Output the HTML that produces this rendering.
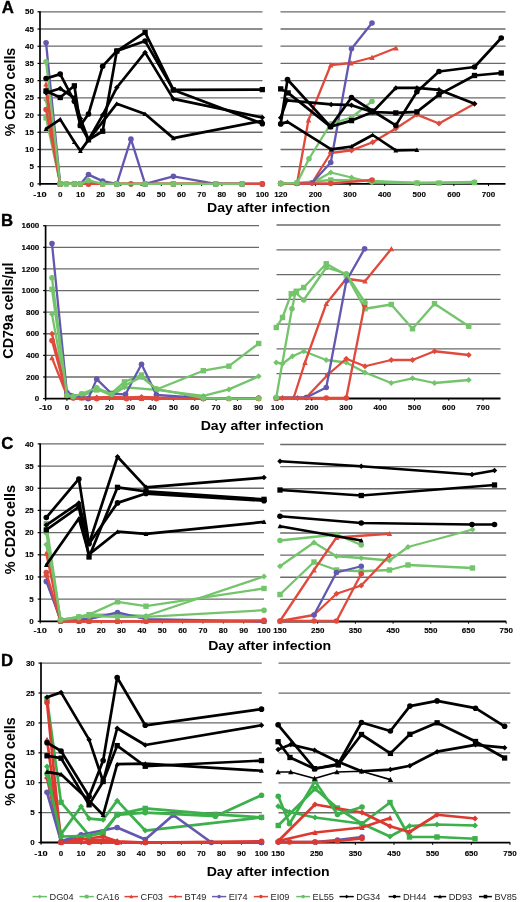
<!DOCTYPE html>
<html><head><meta charset="utf-8"><style>
html,body{margin:0;padding:0;background:#fff;}
svg{display:block;filter:blur(0.35px);}
text{font-family:"Liberation Sans",sans-serif;fill:#000;}
</style></head><body>
<svg width="520" height="902" viewBox="0 0 520 902">
<rect width="520" height="902" fill="#fff"/>
<line x1="40" y1="166.69" x2="262.5" y2="166.69" stroke="#6a6a6a" stroke-width="1.3"/>
<line x1="40" y1="149.48" x2="262.5" y2="149.48" stroke="#6a6a6a" stroke-width="1.3"/>
<line x1="40" y1="132.27" x2="262.5" y2="132.27" stroke="#6a6a6a" stroke-width="1.3"/>
<line x1="40" y1="115.06" x2="262.5" y2="115.06" stroke="#6a6a6a" stroke-width="1.3"/>
<line x1="40" y1="97.85" x2="262.5" y2="97.85" stroke="#6a6a6a" stroke-width="1.3"/>
<line x1="40" y1="80.64" x2="262.5" y2="80.64" stroke="#6a6a6a" stroke-width="1.3"/>
<line x1="40" y1="63.43" x2="262.5" y2="63.43" stroke="#6a6a6a" stroke-width="1.3"/>
<line x1="40" y1="46.22" x2="262.5" y2="46.22" stroke="#6a6a6a" stroke-width="1.3"/>
<line x1="40" y1="29.01" x2="262.5" y2="29.01" stroke="#6a6a6a" stroke-width="1.3"/>
<line x1="40" y1="11.8" x2="262.5" y2="11.8" stroke="#6a6a6a" stroke-width="1.3"/>
<line x1="40" y1="183.9" x2="262.5" y2="183.9" stroke="#000" stroke-width="1.8"/>
<line x1="40" y1="183.9" x2="40" y2="186.1" stroke="#000" stroke-width="1"/>
<line x1="60.21" y1="183.9" x2="60.21" y2="186.1" stroke="#000" stroke-width="1"/>
<line x1="80.42" y1="183.9" x2="80.42" y2="186.1" stroke="#000" stroke-width="1"/>
<line x1="100.63" y1="183.9" x2="100.63" y2="186.1" stroke="#000" stroke-width="1"/>
<line x1="120.84" y1="183.9" x2="120.84" y2="186.1" stroke="#000" stroke-width="1"/>
<line x1="141.05" y1="183.9" x2="141.05" y2="186.1" stroke="#000" stroke-width="1"/>
<line x1="161.25" y1="183.9" x2="161.25" y2="186.1" stroke="#000" stroke-width="1"/>
<line x1="181.46" y1="183.9" x2="181.46" y2="186.1" stroke="#000" stroke-width="1"/>
<line x1="201.67" y1="183.9" x2="201.67" y2="186.1" stroke="#000" stroke-width="1"/>
<line x1="221.88" y1="183.9" x2="221.88" y2="186.1" stroke="#000" stroke-width="1"/>
<line x1="242.09" y1="183.9" x2="242.09" y2="186.1" stroke="#000" stroke-width="1"/>
<line x1="262.3" y1="183.9" x2="262.3" y2="186.1" stroke="#000" stroke-width="1"/>
<line x1="40" y1="11.3" x2="40" y2="184.8" stroke="#000" stroke-width="1.7"/>
<line x1="37.5" y1="183.9" x2="40" y2="183.9" stroke="#000" stroke-width="1.2"/>
<line x1="37.5" y1="166.69" x2="40" y2="166.69" stroke="#000" stroke-width="1.2"/>
<line x1="37.5" y1="149.48" x2="40" y2="149.48" stroke="#000" stroke-width="1.2"/>
<line x1="37.5" y1="132.27" x2="40" y2="132.27" stroke="#000" stroke-width="1.2"/>
<line x1="37.5" y1="115.06" x2="40" y2="115.06" stroke="#000" stroke-width="1.2"/>
<line x1="37.5" y1="97.85" x2="40" y2="97.85" stroke="#000" stroke-width="1.2"/>
<line x1="37.5" y1="80.64" x2="40" y2="80.64" stroke="#000" stroke-width="1.2"/>
<line x1="37.5" y1="63.43" x2="40" y2="63.43" stroke="#000" stroke-width="1.2"/>
<line x1="37.5" y1="46.22" x2="40" y2="46.22" stroke="#000" stroke-width="1.2"/>
<line x1="37.5" y1="29.01" x2="40" y2="29.01" stroke="#000" stroke-width="1.2"/>
<line x1="37.5" y1="11.8" x2="40" y2="11.8" stroke="#000" stroke-width="1.2"/>
<text x="40" y="196.8" text-anchor="middle" font-size="6.5" font-weight="bold" stroke="#000" stroke-width="0.1" textLength="13.35" lengthAdjust="spacingAndGlyphs">-10</text>
<text x="60.21" y="196.8" text-anchor="middle" font-size="6.5" font-weight="bold" stroke="#000" stroke-width="0.1" textLength="4.45" lengthAdjust="spacingAndGlyphs">0</text>
<text x="80.42" y="196.8" text-anchor="middle" font-size="6.5" font-weight="bold" stroke="#000" stroke-width="0.1" textLength="8.9" lengthAdjust="spacingAndGlyphs">10</text>
<text x="100.63" y="196.8" text-anchor="middle" font-size="6.5" font-weight="bold" stroke="#000" stroke-width="0.1" textLength="8.9" lengthAdjust="spacingAndGlyphs">20</text>
<text x="120.84" y="196.8" text-anchor="middle" font-size="6.5" font-weight="bold" stroke="#000" stroke-width="0.1" textLength="8.9" lengthAdjust="spacingAndGlyphs">30</text>
<text x="141.05" y="196.8" text-anchor="middle" font-size="6.5" font-weight="bold" stroke="#000" stroke-width="0.1" textLength="8.9" lengthAdjust="spacingAndGlyphs">40</text>
<text x="161.25" y="196.8" text-anchor="middle" font-size="6.5" font-weight="bold" stroke="#000" stroke-width="0.1" textLength="8.9" lengthAdjust="spacingAndGlyphs">50</text>
<text x="181.46" y="196.8" text-anchor="middle" font-size="6.5" font-weight="bold" stroke="#000" stroke-width="0.1" textLength="8.9" lengthAdjust="spacingAndGlyphs">60</text>
<text x="201.67" y="196.8" text-anchor="middle" font-size="6.5" font-weight="bold" stroke="#000" stroke-width="0.1" textLength="8.9" lengthAdjust="spacingAndGlyphs">70</text>
<text x="221.88" y="196.8" text-anchor="middle" font-size="6.5" font-weight="bold" stroke="#000" stroke-width="0.1" textLength="8.9" lengthAdjust="spacingAndGlyphs">80</text>
<text x="242.09" y="196.8" text-anchor="middle" font-size="6.5" font-weight="bold" stroke="#000" stroke-width="0.1" textLength="8.9" lengthAdjust="spacingAndGlyphs">90</text>
<text x="262.3" y="196.8" text-anchor="middle" font-size="6.5" font-weight="bold" stroke="#000" stroke-width="0.1" textLength="13.35" lengthAdjust="spacingAndGlyphs">100</text>
<text x="34" y="186.5" text-anchor="end" font-size="6.5" font-weight="bold" stroke="#000" stroke-width="0.1" textLength="4.45" lengthAdjust="spacingAndGlyphs">0</text>
<text x="34" y="169.29" text-anchor="end" font-size="6.5" font-weight="bold" stroke="#000" stroke-width="0.1" textLength="4.45" lengthAdjust="spacingAndGlyphs">5</text>
<text x="34" y="152.08" text-anchor="end" font-size="6.5" font-weight="bold" stroke="#000" stroke-width="0.1" textLength="8.9" lengthAdjust="spacingAndGlyphs">10</text>
<text x="34" y="134.87" text-anchor="end" font-size="6.5" font-weight="bold" stroke="#000" stroke-width="0.1" textLength="8.9" lengthAdjust="spacingAndGlyphs">15</text>
<text x="34" y="117.66" text-anchor="end" font-size="6.5" font-weight="bold" stroke="#000" stroke-width="0.1" textLength="8.9" lengthAdjust="spacingAndGlyphs">20</text>
<text x="34" y="100.45" text-anchor="end" font-size="6.5" font-weight="bold" stroke="#000" stroke-width="0.1" textLength="8.9" lengthAdjust="spacingAndGlyphs">25</text>
<text x="34" y="83.24" text-anchor="end" font-size="6.5" font-weight="bold" stroke="#000" stroke-width="0.1" textLength="8.9" lengthAdjust="spacingAndGlyphs">30</text>
<text x="34" y="66.03" text-anchor="end" font-size="6.5" font-weight="bold" stroke="#000" stroke-width="0.1" textLength="8.9" lengthAdjust="spacingAndGlyphs">35</text>
<text x="34" y="48.82" text-anchor="end" font-size="6.5" font-weight="bold" stroke="#000" stroke-width="0.1" textLength="8.9" lengthAdjust="spacingAndGlyphs">40</text>
<text x="34" y="31.61" text-anchor="end" font-size="6.5" font-weight="bold" stroke="#000" stroke-width="0.1" textLength="8.9" lengthAdjust="spacingAndGlyphs">45</text>
<text x="34" y="14.4" text-anchor="end" font-size="6.5" font-weight="bold" stroke="#000" stroke-width="0.1" textLength="8.9" lengthAdjust="spacingAndGlyphs">50</text>
<line x1="280.5" y1="166.69" x2="505.5" y2="166.69" stroke="#6a6a6a" stroke-width="1.3"/>
<line x1="280.5" y1="149.48" x2="505.5" y2="149.48" stroke="#6a6a6a" stroke-width="1.3"/>
<line x1="280.5" y1="132.27" x2="505.5" y2="132.27" stroke="#6a6a6a" stroke-width="1.3"/>
<line x1="280.5" y1="115.06" x2="505.5" y2="115.06" stroke="#6a6a6a" stroke-width="1.3"/>
<line x1="280.5" y1="97.85" x2="505.5" y2="97.85" stroke="#6a6a6a" stroke-width="1.3"/>
<line x1="280.5" y1="80.64" x2="505.5" y2="80.64" stroke="#6a6a6a" stroke-width="1.3"/>
<line x1="280.5" y1="63.43" x2="505.5" y2="63.43" stroke="#6a6a6a" stroke-width="1.3"/>
<line x1="280.5" y1="46.22" x2="505.5" y2="46.22" stroke="#6a6a6a" stroke-width="1.3"/>
<line x1="280.5" y1="29.01" x2="505.5" y2="29.01" stroke="#6a6a6a" stroke-width="1.3"/>
<line x1="280.5" y1="11.8" x2="505.5" y2="11.8" stroke="#6a6a6a" stroke-width="1.3"/>
<line x1="280.5" y1="183.9" x2="505.5" y2="183.9" stroke="#000" stroke-width="1.8"/>
<line x1="280.8" y1="183.9" x2="280.8" y2="186.1" stroke="#000" stroke-width="1"/>
<line x1="315.42" y1="183.9" x2="315.42" y2="186.1" stroke="#000" stroke-width="1"/>
<line x1="350.03" y1="183.9" x2="350.03" y2="186.1" stroke="#000" stroke-width="1"/>
<line x1="384.65" y1="183.9" x2="384.65" y2="186.1" stroke="#000" stroke-width="1"/>
<line x1="419.27" y1="183.9" x2="419.27" y2="186.1" stroke="#000" stroke-width="1"/>
<line x1="453.88" y1="183.9" x2="453.88" y2="186.1" stroke="#000" stroke-width="1"/>
<line x1="488.5" y1="183.9" x2="488.5" y2="186.1" stroke="#000" stroke-width="1"/>
<text x="280.8" y="196.8" text-anchor="middle" font-size="6.5" font-weight="bold" stroke="#000" stroke-width="0.1" textLength="13.35" lengthAdjust="spacingAndGlyphs">120</text>
<text x="315.42" y="196.8" text-anchor="middle" font-size="6.5" font-weight="bold" stroke="#000" stroke-width="0.1" textLength="13.35" lengthAdjust="spacingAndGlyphs">200</text>
<text x="350.03" y="196.8" text-anchor="middle" font-size="6.5" font-weight="bold" stroke="#000" stroke-width="0.1" textLength="13.35" lengthAdjust="spacingAndGlyphs">300</text>
<text x="384.65" y="196.8" text-anchor="middle" font-size="6.5" font-weight="bold" stroke="#000" stroke-width="0.1" textLength="13.35" lengthAdjust="spacingAndGlyphs">400</text>
<text x="419.27" y="196.8" text-anchor="middle" font-size="6.5" font-weight="bold" stroke="#000" stroke-width="0.1" textLength="13.35" lengthAdjust="spacingAndGlyphs">500</text>
<text x="453.88" y="196.8" text-anchor="middle" font-size="6.5" font-weight="bold" stroke="#000" stroke-width="0.1" textLength="13.35" lengthAdjust="spacingAndGlyphs">600</text>
<text x="488.5" y="196.8" text-anchor="middle" font-size="6.5" font-weight="bold" stroke="#000" stroke-width="0.1" textLength="13.35" lengthAdjust="spacingAndGlyphs">700</text>
<line x1="45.6" y1="376.99" x2="259" y2="376.99" stroke="#6a6a6a" stroke-width="1.3"/>
<line x1="45.6" y1="355.38" x2="259" y2="355.38" stroke="#6a6a6a" stroke-width="1.3"/>
<line x1="45.6" y1="333.76" x2="259" y2="333.76" stroke="#6a6a6a" stroke-width="1.3"/>
<line x1="45.6" y1="312.15" x2="259" y2="312.15" stroke="#6a6a6a" stroke-width="1.3"/>
<line x1="45.6" y1="290.54" x2="259" y2="290.54" stroke="#6a6a6a" stroke-width="1.3"/>
<line x1="45.6" y1="268.93" x2="259" y2="268.93" stroke="#6a6a6a" stroke-width="1.3"/>
<line x1="45.6" y1="247.31" x2="259" y2="247.31" stroke="#6a6a6a" stroke-width="1.3"/>
<line x1="45.6" y1="225.7" x2="259" y2="225.7" stroke="#6a6a6a" stroke-width="1.3"/>
<line x1="45.6" y1="398.6" x2="259" y2="398.6" stroke="#000" stroke-width="1.8"/>
<line x1="45.6" y1="398.6" x2="45.6" y2="400.8" stroke="#000" stroke-width="1"/>
<line x1="66.91" y1="398.6" x2="66.91" y2="400.8" stroke="#000" stroke-width="1"/>
<line x1="88.22" y1="398.6" x2="88.22" y2="400.8" stroke="#000" stroke-width="1"/>
<line x1="109.53" y1="398.6" x2="109.53" y2="400.8" stroke="#000" stroke-width="1"/>
<line x1="130.84" y1="398.6" x2="130.84" y2="400.8" stroke="#000" stroke-width="1"/>
<line x1="152.15" y1="398.6" x2="152.15" y2="400.8" stroke="#000" stroke-width="1"/>
<line x1="173.46" y1="398.6" x2="173.46" y2="400.8" stroke="#000" stroke-width="1"/>
<line x1="194.77" y1="398.6" x2="194.77" y2="400.8" stroke="#000" stroke-width="1"/>
<line x1="216.08" y1="398.6" x2="216.08" y2="400.8" stroke="#000" stroke-width="1"/>
<line x1="237.39" y1="398.6" x2="237.39" y2="400.8" stroke="#000" stroke-width="1"/>
<line x1="258.7" y1="398.6" x2="258.7" y2="400.8" stroke="#000" stroke-width="1"/>
<line x1="45.6" y1="225.2" x2="45.6" y2="399.5" stroke="#000" stroke-width="1.7"/>
<line x1="43.1" y1="398.6" x2="45.6" y2="398.6" stroke="#000" stroke-width="1.2"/>
<line x1="43.1" y1="376.99" x2="45.6" y2="376.99" stroke="#000" stroke-width="1.2"/>
<line x1="43.1" y1="355.38" x2="45.6" y2="355.38" stroke="#000" stroke-width="1.2"/>
<line x1="43.1" y1="333.76" x2="45.6" y2="333.76" stroke="#000" stroke-width="1.2"/>
<line x1="43.1" y1="312.15" x2="45.6" y2="312.15" stroke="#000" stroke-width="1.2"/>
<line x1="43.1" y1="290.54" x2="45.6" y2="290.54" stroke="#000" stroke-width="1.2"/>
<line x1="43.1" y1="268.93" x2="45.6" y2="268.93" stroke="#000" stroke-width="1.2"/>
<line x1="43.1" y1="247.31" x2="45.6" y2="247.31" stroke="#000" stroke-width="1.2"/>
<line x1="43.1" y1="225.7" x2="45.6" y2="225.7" stroke="#000" stroke-width="1.2"/>
<text x="45.6" y="410.3" text-anchor="middle" font-size="6.5" font-weight="bold" stroke="#000" stroke-width="0.1" textLength="13.35" lengthAdjust="spacingAndGlyphs">-10</text>
<text x="66.91" y="410.3" text-anchor="middle" font-size="6.5" font-weight="bold" stroke="#000" stroke-width="0.1" textLength="4.45" lengthAdjust="spacingAndGlyphs">0</text>
<text x="88.22" y="410.3" text-anchor="middle" font-size="6.5" font-weight="bold" stroke="#000" stroke-width="0.1" textLength="8.9" lengthAdjust="spacingAndGlyphs">10</text>
<text x="109.53" y="410.3" text-anchor="middle" font-size="6.5" font-weight="bold" stroke="#000" stroke-width="0.1" textLength="8.9" lengthAdjust="spacingAndGlyphs">20</text>
<text x="130.84" y="410.3" text-anchor="middle" font-size="6.5" font-weight="bold" stroke="#000" stroke-width="0.1" textLength="8.9" lengthAdjust="spacingAndGlyphs">30</text>
<text x="152.15" y="410.3" text-anchor="middle" font-size="6.5" font-weight="bold" stroke="#000" stroke-width="0.1" textLength="8.9" lengthAdjust="spacingAndGlyphs">40</text>
<text x="173.46" y="410.3" text-anchor="middle" font-size="6.5" font-weight="bold" stroke="#000" stroke-width="0.1" textLength="8.9" lengthAdjust="spacingAndGlyphs">50</text>
<text x="194.77" y="410.3" text-anchor="middle" font-size="6.5" font-weight="bold" stroke="#000" stroke-width="0.1" textLength="8.9" lengthAdjust="spacingAndGlyphs">60</text>
<text x="216.08" y="410.3" text-anchor="middle" font-size="6.5" font-weight="bold" stroke="#000" stroke-width="0.1" textLength="8.9" lengthAdjust="spacingAndGlyphs">70</text>
<text x="237.39" y="410.3" text-anchor="middle" font-size="6.5" font-weight="bold" stroke="#000" stroke-width="0.1" textLength="8.9" lengthAdjust="spacingAndGlyphs">80</text>
<text x="258.7" y="410.3" text-anchor="middle" font-size="6.5" font-weight="bold" stroke="#000" stroke-width="0.1" textLength="8.9" lengthAdjust="spacingAndGlyphs">90</text>
<text x="39.3" y="401.2" text-anchor="end" font-size="6.5" font-weight="bold" stroke="#000" stroke-width="0.1" textLength="4.45" lengthAdjust="spacingAndGlyphs">0</text>
<text x="39.3" y="379.59" text-anchor="end" font-size="6.5" font-weight="bold" stroke="#000" stroke-width="0.1" textLength="13.35" lengthAdjust="spacingAndGlyphs">200</text>
<text x="39.3" y="357.98" text-anchor="end" font-size="6.5" font-weight="bold" stroke="#000" stroke-width="0.1" textLength="13.35" lengthAdjust="spacingAndGlyphs">400</text>
<text x="39.3" y="336.36" text-anchor="end" font-size="6.5" font-weight="bold" stroke="#000" stroke-width="0.1" textLength="13.35" lengthAdjust="spacingAndGlyphs">600</text>
<text x="39.3" y="314.75" text-anchor="end" font-size="6.5" font-weight="bold" stroke="#000" stroke-width="0.1" textLength="13.35" lengthAdjust="spacingAndGlyphs">800</text>
<text x="39.3" y="293.14" text-anchor="end" font-size="6.5" font-weight="bold" stroke="#000" stroke-width="0.1" textLength="17.8" lengthAdjust="spacingAndGlyphs">1000</text>
<text x="39.3" y="271.53" text-anchor="end" font-size="6.5" font-weight="bold" stroke="#000" stroke-width="0.1" textLength="17.8" lengthAdjust="spacingAndGlyphs">1200</text>
<text x="39.3" y="249.91" text-anchor="end" font-size="6.5" font-weight="bold" stroke="#000" stroke-width="0.1" textLength="17.8" lengthAdjust="spacingAndGlyphs">1400</text>
<text x="39.3" y="228.3" text-anchor="end" font-size="6.5" font-weight="bold" stroke="#000" stroke-width="0.1" textLength="17.8" lengthAdjust="spacingAndGlyphs">1600</text>
<line x1="276.5" y1="373.71" x2="500.5" y2="373.71" stroke="#6a6a6a" stroke-width="1.3"/>
<line x1="276.5" y1="348.93" x2="500.5" y2="348.93" stroke="#6a6a6a" stroke-width="1.3"/>
<line x1="276.5" y1="324.14" x2="500.5" y2="324.14" stroke="#6a6a6a" stroke-width="1.3"/>
<line x1="276.5" y1="299.36" x2="500.5" y2="299.36" stroke="#6a6a6a" stroke-width="1.3"/>
<line x1="276.5" y1="274.57" x2="500.5" y2="274.57" stroke="#6a6a6a" stroke-width="1.3"/>
<line x1="276.5" y1="249.79" x2="500.5" y2="249.79" stroke="#6a6a6a" stroke-width="1.3"/>
<line x1="276.5" y1="225" x2="500.5" y2="225" stroke="#6a6a6a" stroke-width="1.3"/>
<line x1="276.5" y1="398.5" x2="500.5" y2="398.5" stroke="#000" stroke-width="1.8"/>
<line x1="277.5" y1="398.5" x2="277.5" y2="400.7" stroke="#000" stroke-width="1"/>
<line x1="311.75" y1="398.5" x2="311.75" y2="400.7" stroke="#000" stroke-width="1"/>
<line x1="346" y1="398.5" x2="346" y2="400.7" stroke="#000" stroke-width="1"/>
<line x1="380.25" y1="398.5" x2="380.25" y2="400.7" stroke="#000" stroke-width="1"/>
<line x1="414.5" y1="398.5" x2="414.5" y2="400.7" stroke="#000" stroke-width="1"/>
<line x1="448.75" y1="398.5" x2="448.75" y2="400.7" stroke="#000" stroke-width="1"/>
<line x1="483" y1="398.5" x2="483" y2="400.7" stroke="#000" stroke-width="1"/>
<text x="277.5" y="410.3" text-anchor="middle" font-size="6.5" font-weight="bold" stroke="#000" stroke-width="0.1" textLength="13.35" lengthAdjust="spacingAndGlyphs">100</text>
<text x="311.75" y="410.3" text-anchor="middle" font-size="6.5" font-weight="bold" stroke="#000" stroke-width="0.1" textLength="13.35" lengthAdjust="spacingAndGlyphs">200</text>
<text x="346" y="410.3" text-anchor="middle" font-size="6.5" font-weight="bold" stroke="#000" stroke-width="0.1" textLength="13.35" lengthAdjust="spacingAndGlyphs">300</text>
<text x="380.25" y="410.3" text-anchor="middle" font-size="6.5" font-weight="bold" stroke="#000" stroke-width="0.1" textLength="13.35" lengthAdjust="spacingAndGlyphs">400</text>
<text x="414.5" y="410.3" text-anchor="middle" font-size="6.5" font-weight="bold" stroke="#000" stroke-width="0.1" textLength="13.35" lengthAdjust="spacingAndGlyphs">500</text>
<text x="448.75" y="410.3" text-anchor="middle" font-size="6.5" font-weight="bold" stroke="#000" stroke-width="0.1" textLength="13.35" lengthAdjust="spacingAndGlyphs">600</text>
<text x="483" y="410.3" text-anchor="middle" font-size="6.5" font-weight="bold" stroke="#000" stroke-width="0.1" textLength="13.35" lengthAdjust="spacingAndGlyphs">700</text>
<line x1="40.2" y1="599.12" x2="264" y2="599.12" stroke="#6a6a6a" stroke-width="1.3"/>
<line x1="40.2" y1="576.95" x2="264" y2="576.95" stroke="#6a6a6a" stroke-width="1.3"/>
<line x1="40.2" y1="554.77" x2="264" y2="554.77" stroke="#6a6a6a" stroke-width="1.3"/>
<line x1="40.2" y1="532.6" x2="264" y2="532.6" stroke="#6a6a6a" stroke-width="1.3"/>
<line x1="40.2" y1="510.42" x2="264" y2="510.42" stroke="#6a6a6a" stroke-width="1.3"/>
<line x1="40.2" y1="488.25" x2="264" y2="488.25" stroke="#6a6a6a" stroke-width="1.3"/>
<line x1="40.2" y1="466.07" x2="264" y2="466.07" stroke="#6a6a6a" stroke-width="1.3"/>
<line x1="40.2" y1="443.9" x2="264" y2="443.9" stroke="#6a6a6a" stroke-width="1.3"/>
<line x1="40.2" y1="621.3" x2="264" y2="621.3" stroke="#000" stroke-width="1.8"/>
<line x1="40.2" y1="621.3" x2="40.2" y2="623.5" stroke="#000" stroke-width="1"/>
<line x1="60.55" y1="621.3" x2="60.55" y2="623.5" stroke="#000" stroke-width="1"/>
<line x1="80.89" y1="621.3" x2="80.89" y2="623.5" stroke="#000" stroke-width="1"/>
<line x1="101.24" y1="621.3" x2="101.24" y2="623.5" stroke="#000" stroke-width="1"/>
<line x1="121.58" y1="621.3" x2="121.58" y2="623.5" stroke="#000" stroke-width="1"/>
<line x1="141.93" y1="621.3" x2="141.93" y2="623.5" stroke="#000" stroke-width="1"/>
<line x1="162.27" y1="621.3" x2="162.27" y2="623.5" stroke="#000" stroke-width="1"/>
<line x1="182.62" y1="621.3" x2="182.62" y2="623.5" stroke="#000" stroke-width="1"/>
<line x1="202.96" y1="621.3" x2="202.96" y2="623.5" stroke="#000" stroke-width="1"/>
<line x1="223.31" y1="621.3" x2="223.31" y2="623.5" stroke="#000" stroke-width="1"/>
<line x1="243.65" y1="621.3" x2="243.65" y2="623.5" stroke="#000" stroke-width="1"/>
<line x1="264" y1="621.3" x2="264" y2="623.5" stroke="#000" stroke-width="1"/>
<line x1="40.2" y1="443.4" x2="40.2" y2="622.2" stroke="#000" stroke-width="1.7"/>
<line x1="37.7" y1="621.3" x2="40.2" y2="621.3" stroke="#000" stroke-width="1.2"/>
<line x1="37.7" y1="599.12" x2="40.2" y2="599.12" stroke="#000" stroke-width="1.2"/>
<line x1="37.7" y1="576.95" x2="40.2" y2="576.95" stroke="#000" stroke-width="1.2"/>
<line x1="37.7" y1="554.77" x2="40.2" y2="554.77" stroke="#000" stroke-width="1.2"/>
<line x1="37.7" y1="532.6" x2="40.2" y2="532.6" stroke="#000" stroke-width="1.2"/>
<line x1="37.7" y1="510.42" x2="40.2" y2="510.42" stroke="#000" stroke-width="1.2"/>
<line x1="37.7" y1="488.25" x2="40.2" y2="488.25" stroke="#000" stroke-width="1.2"/>
<line x1="37.7" y1="466.07" x2="40.2" y2="466.07" stroke="#000" stroke-width="1.2"/>
<line x1="37.7" y1="443.9" x2="40.2" y2="443.9" stroke="#000" stroke-width="1.2"/>
<text x="40.2" y="633.3" text-anchor="middle" font-size="6.5" font-weight="bold" stroke="#000" stroke-width="0.1" textLength="13.35" lengthAdjust="spacingAndGlyphs">-10</text>
<text x="60.55" y="633.3" text-anchor="middle" font-size="6.5" font-weight="bold" stroke="#000" stroke-width="0.1" textLength="4.45" lengthAdjust="spacingAndGlyphs">0</text>
<text x="80.89" y="633.3" text-anchor="middle" font-size="6.5" font-weight="bold" stroke="#000" stroke-width="0.1" textLength="8.9" lengthAdjust="spacingAndGlyphs">10</text>
<text x="101.24" y="633.3" text-anchor="middle" font-size="6.5" font-weight="bold" stroke="#000" stroke-width="0.1" textLength="8.9" lengthAdjust="spacingAndGlyphs">20</text>
<text x="121.58" y="633.3" text-anchor="middle" font-size="6.5" font-weight="bold" stroke="#000" stroke-width="0.1" textLength="8.9" lengthAdjust="spacingAndGlyphs">30</text>
<text x="141.93" y="633.3" text-anchor="middle" font-size="6.5" font-weight="bold" stroke="#000" stroke-width="0.1" textLength="8.9" lengthAdjust="spacingAndGlyphs">40</text>
<text x="162.27" y="633.3" text-anchor="middle" font-size="6.5" font-weight="bold" stroke="#000" stroke-width="0.1" textLength="8.9" lengthAdjust="spacingAndGlyphs">50</text>
<text x="182.62" y="633.3" text-anchor="middle" font-size="6.5" font-weight="bold" stroke="#000" stroke-width="0.1" textLength="8.9" lengthAdjust="spacingAndGlyphs">60</text>
<text x="202.96" y="633.3" text-anchor="middle" font-size="6.5" font-weight="bold" stroke="#000" stroke-width="0.1" textLength="8.9" lengthAdjust="spacingAndGlyphs">70</text>
<text x="223.31" y="633.3" text-anchor="middle" font-size="6.5" font-weight="bold" stroke="#000" stroke-width="0.1" textLength="8.9" lengthAdjust="spacingAndGlyphs">80</text>
<text x="243.65" y="633.3" text-anchor="middle" font-size="6.5" font-weight="bold" stroke="#000" stroke-width="0.1" textLength="8.9" lengthAdjust="spacingAndGlyphs">90</text>
<text x="264" y="633.3" text-anchor="middle" font-size="6.5" font-weight="bold" stroke="#000" stroke-width="0.1" textLength="13.35" lengthAdjust="spacingAndGlyphs">100</text>
<text x="33.8" y="623.9" text-anchor="end" font-size="6.5" font-weight="bold" stroke="#000" stroke-width="0.1" textLength="4.45" lengthAdjust="spacingAndGlyphs">0</text>
<text x="33.8" y="601.73" text-anchor="end" font-size="6.5" font-weight="bold" stroke="#000" stroke-width="0.1" textLength="4.45" lengthAdjust="spacingAndGlyphs">5</text>
<text x="33.8" y="579.55" text-anchor="end" font-size="6.5" font-weight="bold" stroke="#000" stroke-width="0.1" textLength="8.9" lengthAdjust="spacingAndGlyphs">10</text>
<text x="33.8" y="557.38" text-anchor="end" font-size="6.5" font-weight="bold" stroke="#000" stroke-width="0.1" textLength="8.9" lengthAdjust="spacingAndGlyphs">15</text>
<text x="33.8" y="535.2" text-anchor="end" font-size="6.5" font-weight="bold" stroke="#000" stroke-width="0.1" textLength="8.9" lengthAdjust="spacingAndGlyphs">20</text>
<text x="33.8" y="513.02" text-anchor="end" font-size="6.5" font-weight="bold" stroke="#000" stroke-width="0.1" textLength="8.9" lengthAdjust="spacingAndGlyphs">25</text>
<text x="33.8" y="490.85" text-anchor="end" font-size="6.5" font-weight="bold" stroke="#000" stroke-width="0.1" textLength="8.9" lengthAdjust="spacingAndGlyphs">30</text>
<text x="33.8" y="468.68" text-anchor="end" font-size="6.5" font-weight="bold" stroke="#000" stroke-width="0.1" textLength="8.9" lengthAdjust="spacingAndGlyphs">35</text>
<text x="33.8" y="446.5" text-anchor="end" font-size="6.5" font-weight="bold" stroke="#000" stroke-width="0.1" textLength="8.9" lengthAdjust="spacingAndGlyphs">40</text>
<line x1="280.2" y1="599.38" x2="506.2" y2="599.38" stroke="#6a6a6a" stroke-width="1.3"/>
<line x1="280.2" y1="577.25" x2="506.2" y2="577.25" stroke="#6a6a6a" stroke-width="1.3"/>
<line x1="280.2" y1="555.12" x2="506.2" y2="555.12" stroke="#6a6a6a" stroke-width="1.3"/>
<line x1="280.2" y1="533" x2="506.2" y2="533" stroke="#6a6a6a" stroke-width="1.3"/>
<line x1="280.2" y1="510.88" x2="506.2" y2="510.88" stroke="#6a6a6a" stroke-width="1.3"/>
<line x1="280.2" y1="488.75" x2="506.2" y2="488.75" stroke="#6a6a6a" stroke-width="1.3"/>
<line x1="280.2" y1="466.62" x2="506.2" y2="466.62" stroke="#6a6a6a" stroke-width="1.3"/>
<line x1="280.2" y1="444.5" x2="506.2" y2="444.5" stroke="#6a6a6a" stroke-width="1.3"/>
<line x1="280.2" y1="621.5" x2="506.2" y2="621.5" stroke="#000" stroke-width="1.8"/>
<line x1="280" y1="621.5" x2="280" y2="623.7" stroke="#000" stroke-width="1"/>
<line x1="317.7" y1="621.5" x2="317.7" y2="623.7" stroke="#000" stroke-width="1"/>
<line x1="355.4" y1="621.5" x2="355.4" y2="623.7" stroke="#000" stroke-width="1"/>
<line x1="393.1" y1="621.5" x2="393.1" y2="623.7" stroke="#000" stroke-width="1"/>
<line x1="430.8" y1="621.5" x2="430.8" y2="623.7" stroke="#000" stroke-width="1"/>
<line x1="468.5" y1="621.5" x2="468.5" y2="623.7" stroke="#000" stroke-width="1"/>
<line x1="506.2" y1="621.5" x2="506.2" y2="623.7" stroke="#000" stroke-width="1"/>
<text x="280" y="633.3" text-anchor="middle" font-size="6.5" font-weight="bold" stroke="#000" stroke-width="0.1" textLength="13.35" lengthAdjust="spacingAndGlyphs">150</text>
<text x="317.7" y="633.3" text-anchor="middle" font-size="6.5" font-weight="bold" stroke="#000" stroke-width="0.1" textLength="13.35" lengthAdjust="spacingAndGlyphs">250</text>
<text x="355.4" y="633.3" text-anchor="middle" font-size="6.5" font-weight="bold" stroke="#000" stroke-width="0.1" textLength="13.35" lengthAdjust="spacingAndGlyphs">350</text>
<text x="393.1" y="633.3" text-anchor="middle" font-size="6.5" font-weight="bold" stroke="#000" stroke-width="0.1" textLength="13.35" lengthAdjust="spacingAndGlyphs">450</text>
<text x="430.8" y="633.3" text-anchor="middle" font-size="6.5" font-weight="bold" stroke="#000" stroke-width="0.1" textLength="13.35" lengthAdjust="spacingAndGlyphs">550</text>
<text x="468.5" y="633.3" text-anchor="middle" font-size="6.5" font-weight="bold" stroke="#000" stroke-width="0.1" textLength="13.35" lengthAdjust="spacingAndGlyphs">650</text>
<text x="506.2" y="633.3" text-anchor="middle" font-size="6.5" font-weight="bold" stroke="#000" stroke-width="0.1" textLength="13.35" lengthAdjust="spacingAndGlyphs">750</text>
<line x1="41" y1="812.6" x2="261.8" y2="812.6" stroke="#6a6a6a" stroke-width="1.3"/>
<line x1="41" y1="782.7" x2="261.8" y2="782.7" stroke="#6a6a6a" stroke-width="1.3"/>
<line x1="41" y1="752.8" x2="261.8" y2="752.8" stroke="#6a6a6a" stroke-width="1.3"/>
<line x1="41" y1="722.9" x2="261.8" y2="722.9" stroke="#6a6a6a" stroke-width="1.3"/>
<line x1="41" y1="693" x2="261.8" y2="693" stroke="#6a6a6a" stroke-width="1.3"/>
<line x1="41" y1="663.1" x2="261.8" y2="663.1" stroke="#6a6a6a" stroke-width="1.3"/>
<line x1="41" y1="842.5" x2="261.8" y2="842.5" stroke="#000" stroke-width="1.8"/>
<line x1="41" y1="842.5" x2="41" y2="844.7" stroke="#000" stroke-width="1"/>
<line x1="61.05" y1="842.5" x2="61.05" y2="844.7" stroke="#000" stroke-width="1"/>
<line x1="81.09" y1="842.5" x2="81.09" y2="844.7" stroke="#000" stroke-width="1"/>
<line x1="101.14" y1="842.5" x2="101.14" y2="844.7" stroke="#000" stroke-width="1"/>
<line x1="121.18" y1="842.5" x2="121.18" y2="844.7" stroke="#000" stroke-width="1"/>
<line x1="141.23" y1="842.5" x2="141.23" y2="844.7" stroke="#000" stroke-width="1"/>
<line x1="161.27" y1="842.5" x2="161.27" y2="844.7" stroke="#000" stroke-width="1"/>
<line x1="181.32" y1="842.5" x2="181.32" y2="844.7" stroke="#000" stroke-width="1"/>
<line x1="201.36" y1="842.5" x2="201.36" y2="844.7" stroke="#000" stroke-width="1"/>
<line x1="221.41" y1="842.5" x2="221.41" y2="844.7" stroke="#000" stroke-width="1"/>
<line x1="241.45" y1="842.5" x2="241.45" y2="844.7" stroke="#000" stroke-width="1"/>
<line x1="261.5" y1="842.5" x2="261.5" y2="844.7" stroke="#000" stroke-width="1"/>
<line x1="41" y1="662.6" x2="41" y2="843.4" stroke="#000" stroke-width="1.7"/>
<line x1="38.5" y1="842.5" x2="41" y2="842.5" stroke="#000" stroke-width="1.2"/>
<line x1="38.5" y1="812.6" x2="41" y2="812.6" stroke="#000" stroke-width="1.2"/>
<line x1="38.5" y1="782.7" x2="41" y2="782.7" stroke="#000" stroke-width="1.2"/>
<line x1="38.5" y1="752.8" x2="41" y2="752.8" stroke="#000" stroke-width="1.2"/>
<line x1="38.5" y1="722.9" x2="41" y2="722.9" stroke="#000" stroke-width="1.2"/>
<line x1="38.5" y1="693" x2="41" y2="693" stroke="#000" stroke-width="1.2"/>
<line x1="38.5" y1="663.1" x2="41" y2="663.1" stroke="#000" stroke-width="1.2"/>
<text x="41" y="855.7" text-anchor="middle" font-size="6.5" font-weight="bold" stroke="#000" stroke-width="0.1" textLength="13.35" lengthAdjust="spacingAndGlyphs">-10</text>
<text x="61.05" y="855.7" text-anchor="middle" font-size="6.5" font-weight="bold" stroke="#000" stroke-width="0.1" textLength="4.45" lengthAdjust="spacingAndGlyphs">0</text>
<text x="81.09" y="855.7" text-anchor="middle" font-size="6.5" font-weight="bold" stroke="#000" stroke-width="0.1" textLength="8.9" lengthAdjust="spacingAndGlyphs">10</text>
<text x="101.14" y="855.7" text-anchor="middle" font-size="6.5" font-weight="bold" stroke="#000" stroke-width="0.1" textLength="8.9" lengthAdjust="spacingAndGlyphs">20</text>
<text x="121.18" y="855.7" text-anchor="middle" font-size="6.5" font-weight="bold" stroke="#000" stroke-width="0.1" textLength="8.9" lengthAdjust="spacingAndGlyphs">30</text>
<text x="141.23" y="855.7" text-anchor="middle" font-size="6.5" font-weight="bold" stroke="#000" stroke-width="0.1" textLength="8.9" lengthAdjust="spacingAndGlyphs">40</text>
<text x="161.27" y="855.7" text-anchor="middle" font-size="6.5" font-weight="bold" stroke="#000" stroke-width="0.1" textLength="8.9" lengthAdjust="spacingAndGlyphs">50</text>
<text x="181.32" y="855.7" text-anchor="middle" font-size="6.5" font-weight="bold" stroke="#000" stroke-width="0.1" textLength="8.9" lengthAdjust="spacingAndGlyphs">60</text>
<text x="201.36" y="855.7" text-anchor="middle" font-size="6.5" font-weight="bold" stroke="#000" stroke-width="0.1" textLength="8.9" lengthAdjust="spacingAndGlyphs">70</text>
<text x="221.41" y="855.7" text-anchor="middle" font-size="6.5" font-weight="bold" stroke="#000" stroke-width="0.1" textLength="8.9" lengthAdjust="spacingAndGlyphs">80</text>
<text x="241.45" y="855.7" text-anchor="middle" font-size="6.5" font-weight="bold" stroke="#000" stroke-width="0.1" textLength="8.9" lengthAdjust="spacingAndGlyphs">90</text>
<text x="261.5" y="855.7" text-anchor="middle" font-size="6.5" font-weight="bold" stroke="#000" stroke-width="0.1" textLength="13.35" lengthAdjust="spacingAndGlyphs">100</text>
<text x="34.8" y="845.1" text-anchor="end" font-size="6.5" font-weight="bold" stroke="#000" stroke-width="0.1" textLength="4.45" lengthAdjust="spacingAndGlyphs">0</text>
<text x="34.8" y="815.2" text-anchor="end" font-size="6.5" font-weight="bold" stroke="#000" stroke-width="0.1" textLength="4.45" lengthAdjust="spacingAndGlyphs">5</text>
<text x="34.8" y="785.3" text-anchor="end" font-size="6.5" font-weight="bold" stroke="#000" stroke-width="0.1" textLength="8.9" lengthAdjust="spacingAndGlyphs">10</text>
<text x="34.8" y="755.4" text-anchor="end" font-size="6.5" font-weight="bold" stroke="#000" stroke-width="0.1" textLength="8.9" lengthAdjust="spacingAndGlyphs">15</text>
<text x="34.8" y="725.5" text-anchor="end" font-size="6.5" font-weight="bold" stroke="#000" stroke-width="0.1" textLength="8.9" lengthAdjust="spacingAndGlyphs">20</text>
<text x="34.8" y="695.6" text-anchor="end" font-size="6.5" font-weight="bold" stroke="#000" stroke-width="0.1" textLength="8.9" lengthAdjust="spacingAndGlyphs">25</text>
<text x="34.8" y="665.7" text-anchor="end" font-size="6.5" font-weight="bold" stroke="#000" stroke-width="0.1" textLength="8.9" lengthAdjust="spacingAndGlyphs">30</text>
<line x1="278.5" y1="812.77" x2="510.3" y2="812.77" stroke="#6a6a6a" stroke-width="1.3"/>
<line x1="278.5" y1="782.83" x2="510.3" y2="782.83" stroke="#6a6a6a" stroke-width="1.3"/>
<line x1="278.5" y1="752.9" x2="510.3" y2="752.9" stroke="#6a6a6a" stroke-width="1.3"/>
<line x1="278.5" y1="722.97" x2="510.3" y2="722.97" stroke="#6a6a6a" stroke-width="1.3"/>
<line x1="278.5" y1="693.03" x2="510.3" y2="693.03" stroke="#6a6a6a" stroke-width="1.3"/>
<line x1="278.5" y1="663.1" x2="510.3" y2="663.1" stroke="#6a6a6a" stroke-width="1.3"/>
<line x1="278.5" y1="842.7" x2="510.3" y2="842.7" stroke="#000" stroke-width="1.8"/>
<line x1="278" y1="842.7" x2="278" y2="844.9" stroke="#000" stroke-width="1"/>
<line x1="316.67" y1="842.7" x2="316.67" y2="844.9" stroke="#000" stroke-width="1"/>
<line x1="355.33" y1="842.7" x2="355.33" y2="844.9" stroke="#000" stroke-width="1"/>
<line x1="394" y1="842.7" x2="394" y2="844.9" stroke="#000" stroke-width="1"/>
<line x1="432.67" y1="842.7" x2="432.67" y2="844.9" stroke="#000" stroke-width="1"/>
<line x1="471.33" y1="842.7" x2="471.33" y2="844.9" stroke="#000" stroke-width="1"/>
<line x1="510" y1="842.7" x2="510" y2="844.9" stroke="#000" stroke-width="1"/>
<text x="278" y="855.7" text-anchor="middle" font-size="6.5" font-weight="bold" stroke="#000" stroke-width="0.1" textLength="13.35" lengthAdjust="spacingAndGlyphs">150</text>
<text x="316.67" y="855.7" text-anchor="middle" font-size="6.5" font-weight="bold" stroke="#000" stroke-width="0.1" textLength="13.35" lengthAdjust="spacingAndGlyphs">250</text>
<text x="355.33" y="855.7" text-anchor="middle" font-size="6.5" font-weight="bold" stroke="#000" stroke-width="0.1" textLength="13.35" lengthAdjust="spacingAndGlyphs">350</text>
<text x="394" y="855.7" text-anchor="middle" font-size="6.5" font-weight="bold" stroke="#000" stroke-width="0.1" textLength="13.35" lengthAdjust="spacingAndGlyphs">450</text>
<text x="432.67" y="855.7" text-anchor="middle" font-size="6.5" font-weight="bold" stroke="#000" stroke-width="0.1" textLength="13.35" lengthAdjust="spacingAndGlyphs">550</text>
<text x="471.33" y="855.7" text-anchor="middle" font-size="6.5" font-weight="bold" stroke="#000" stroke-width="0.1" textLength="13.35" lengthAdjust="spacingAndGlyphs">650</text>
<text x="510" y="855.7" text-anchor="middle" font-size="6.5" font-weight="bold" stroke="#000" stroke-width="0.1" textLength="13.35" lengthAdjust="spacingAndGlyphs">750</text>
<text x="1.8" y="13.3" font-size="16.8" font-weight="bold" stroke="#000" stroke-width="0.35">A</text>
<text x="1.0" y="226.0" font-size="16.8" font-weight="bold" stroke="#000" stroke-width="0.35">B</text>
<text x="1.2" y="449.0" font-size="16.8" font-weight="bold" stroke="#000" stroke-width="0.35">C</text>
<text x="1.0" y="665.5" font-size="16.8" font-weight="bold" stroke="#000" stroke-width="0.35">D</text>
<text x="207.0" y="211.8" font-size="13.4" font-weight="bold" textLength="123" lengthAdjust="spacingAndGlyphs">Day after infection</text>
<text x="200.7" y="429.9" font-size="13.4" font-weight="bold" textLength="123" lengthAdjust="spacingAndGlyphs">Day after infection</text>
<text x="208.2" y="650.0" font-size="13.4" font-weight="bold" textLength="123" lengthAdjust="spacingAndGlyphs">Day after infection</text>
<text x="206.7" y="875.9" font-size="13.4" font-weight="bold" textLength="123" lengthAdjust="spacingAndGlyphs">Day after infection</text>
<text transform="translate(15.3,92.0) rotate(-90)" x="0" y="0" text-anchor="middle" font-size="14" font-weight="bold" textLength="88.5" lengthAdjust="spacingAndGlyphs">% CD20 cells</text>
<text transform="translate(13.4,310.6) rotate(-90)" x="0" y="0" text-anchor="middle" font-size="14" font-weight="bold" textLength="96.1" lengthAdjust="spacingAndGlyphs">CD79a cells/µl</text>
<text transform="translate(15.1,529.65) rotate(-90)" x="0" y="0" text-anchor="middle" font-size="14" font-weight="bold" textLength="89.4" lengthAdjust="spacingAndGlyphs">% CD20 cells</text>
<text transform="translate(15.1,761.6) rotate(-90)" x="0" y="0" text-anchor="middle" font-size="14" font-weight="bold" textLength="88.5" lengthAdjust="spacingAndGlyphs">% CD20 cells</text>
<line x1="32.5" y1="896.6" x2="47" y2="896.6" stroke="#6cbf6a" stroke-width="1.5"/>
<path d="M39.75 894.8L41.55 896.6L39.75 898.4L37.95 896.6Z" fill="#6cbf6a"/>
<text x="49.5" y="900.0" font-size="9.2" style="fill:#262626">DG04</text>
<line x1="79.5" y1="896.6" x2="93.8" y2="896.6" stroke="#6cbf6a" stroke-width="1.5"/>
<rect x="84.85" y="894.8" width="3.6" height="3.6" fill="#6cbf6a"/>
<text x="96.3" y="900.0" font-size="9.2" style="fill:#262626">CA16</text>
<line x1="124.5" y1="896.6" x2="138" y2="896.6" stroke="#dd4536" stroke-width="1.5"/>
<path d="M131.25 894.53L133.23 898.31L129.27 898.31Z" fill="#dd4536"/>
<text x="140.5" y="900.0" font-size="9.2" style="fill:#262626">CF03</text>
<line x1="168.7" y1="896.6" x2="182" y2="896.6" stroke="#dd4536" stroke-width="1.5"/>
<path d="M175.35 894.8L177.15 896.6L175.35 898.4L173.55 896.6Z" fill="#dd4536"/>
<text x="184.5" y="900.0" font-size="9.2" style="fill:#262626">BT49</text>
<line x1="212" y1="896.6" x2="226.2" y2="896.6" stroke="#6a5cb3" stroke-width="1.5"/>
<circle cx="219.1" cy="896.6" r="1.8" fill="#6a5cb3"/>
<text x="228.7" y="900.0" font-size="9.2" style="fill:#262626">EI74</text>
<line x1="253.8" y1="896.6" x2="268" y2="896.6" stroke="#dd4536" stroke-width="1.5"/>
<circle cx="260.9" cy="896.6" r="1.8" fill="#dd4536"/>
<text x="270.5" y="900.0" font-size="9.2" style="fill:#262626">EI09</text>
<line x1="296.2" y1="896.6" x2="310" y2="896.6" stroke="#6cbf6a" stroke-width="1.5"/>
<circle cx="303.1" cy="896.6" r="1.8" fill="#6cbf6a"/>
<text x="312.5" y="900.0" font-size="9.2" style="fill:#262626">EL55</text>
<line x1="339.5" y1="896.6" x2="353.8" y2="896.6" stroke="#000000" stroke-width="1.5"/>
<path d="M346.65 894.8L348.45 896.6L346.65 898.4L344.85 896.6Z" fill="#000000"/>
<text x="356.3" y="900.0" font-size="9.2" style="fill:#262626">DG34</text>
<line x1="388.6" y1="896.6" x2="400.4" y2="896.6" stroke="#000000" stroke-width="1.5"/>
<circle cx="394.5" cy="896.6" r="1.8" fill="#000000"/>
<text x="402.9" y="900.0" font-size="9.2" style="fill:#262626">DH44</text>
<line x1="433.8" y1="896.6" x2="446.2" y2="896.6" stroke="#000000" stroke-width="1.5"/>
<path d="M440 894.53L441.98 898.31L438.02 898.31Z" fill="#000000"/>
<text x="448.7" y="900.0" font-size="9.2" style="fill:#262626">DD93</text>
<line x1="479" y1="896.6" x2="491.9" y2="896.6" stroke="#000000" stroke-width="1.5"/>
<rect x="483.65" y="894.8" width="3.6" height="3.6" fill="#000000"/>
<text x="494.4" y="900.0" font-size="9.2" style="fill:#262626">BV85</text>
<path d="M46.06 99.92 L60.21 183.9 L66.27 183.9 L74.36 183.9 L80.42 183.9 L88.5 183.9 L102.65 183.9 L116.79 183.9 L130.94 183.9 L145.09 183.9 L173.38 183.9 L215.82 183.9 L242.09 183.9" fill="none" stroke="#74c46c" stroke-width="2.3" stroke-linejoin="round" stroke-linecap="round"/>
<path d="M46.06 96.92L49.06 99.92L46.06 102.92L43.06 99.92Z" fill="#74c46c"/>
<path d="M60.21 180.9L63.21 183.9L60.21 186.9L57.21 183.9Z" fill="#74c46c"/>
<path d="M66.27 180.9L69.27 183.9L66.27 186.9L63.27 183.9Z" fill="#74c46c"/>
<path d="M74.36 180.9L77.36 183.9L74.36 186.9L71.36 183.9Z" fill="#74c46c"/>
<path d="M80.42 180.9L83.42 183.9L80.42 186.9L77.42 183.9Z" fill="#74c46c"/>
<path d="M88.5 180.9L91.5 183.9L88.5 186.9L85.5 183.9Z" fill="#74c46c"/>
<path d="M102.65 180.9L105.65 183.9L102.65 186.9L99.65 183.9Z" fill="#74c46c"/>
<path d="M116.79 180.9L119.79 183.9L116.79 186.9L113.79 183.9Z" fill="#74c46c"/>
<path d="M130.94 180.9L133.94 183.9L130.94 186.9L127.94 183.9Z" fill="#74c46c"/>
<path d="M145.09 180.9L148.09 183.9L145.09 186.9L142.09 183.9Z" fill="#74c46c"/>
<path d="M173.38 180.9L176.38 183.9L173.38 186.9L170.38 183.9Z" fill="#74c46c"/>
<path d="M215.82 180.9L218.82 183.9L215.82 186.9L212.82 183.9Z" fill="#74c46c"/>
<path d="M242.09 180.9L245.09 183.9L242.09 186.9L239.09 183.9Z" fill="#74c46c"/>
<path d="M46.06 117.81 L60.21 183.9 L66.27 183.9 L74.36 183.9 L80.42 183.9 L88.5 182.18 L102.65 183.9 L116.79 183.9 L145.09 183.9 L173.38 183.9 L215.82 183.9 L242.09 183.9" fill="none" stroke="#74c46c" stroke-width="2.3" stroke-linejoin="round" stroke-linecap="round"/>
<rect x="43.36" y="115.11" width="5.4" height="5.4" fill="#74c46c"/>
<rect x="57.51" y="181.2" width="5.4" height="5.4" fill="#74c46c"/>
<rect x="63.57" y="181.2" width="5.4" height="5.4" fill="#74c46c"/>
<rect x="71.66" y="181.2" width="5.4" height="5.4" fill="#74c46c"/>
<rect x="77.72" y="181.2" width="5.4" height="5.4" fill="#74c46c"/>
<rect x="85.8" y="179.48" width="5.4" height="5.4" fill="#74c46c"/>
<rect x="99.95" y="181.2" width="5.4" height="5.4" fill="#74c46c"/>
<rect x="114.09" y="181.2" width="5.4" height="5.4" fill="#74c46c"/>
<rect x="142.39" y="181.2" width="5.4" height="5.4" fill="#74c46c"/>
<rect x="170.68" y="181.2" width="5.4" height="5.4" fill="#74c46c"/>
<rect x="213.12" y="181.2" width="5.4" height="5.4" fill="#74c46c"/>
<rect x="239.39" y="181.2" width="5.4" height="5.4" fill="#74c46c"/>
<path d="M46.06 84.08 L60.21 183.9 L74.36 183.9 L80.42 183.9 L88.5 183.9 L102.65 183.9 L116.79 183.9 L145.09 183.9 L173.38 183.9 L215.82 183.9 L242.09 183.9 L262.3 183.9" fill="none" stroke="#e04a3c" stroke-width="2.3" stroke-linejoin="round" stroke-linecap="round"/>
<path d="M46.06 81.21L48.81 86.46L43.31 86.46Z" fill="#e04a3c"/>
<path d="M60.21 181.03L62.96 186.28L57.46 186.28Z" fill="#e04a3c"/>
<path d="M74.36 181.03L77.11 186.28L71.61 186.28Z" fill="#e04a3c"/>
<path d="M80.42 181.03L83.17 186.28L77.67 186.28Z" fill="#e04a3c"/>
<path d="M88.5 181.03L91.25 186.28L85.75 186.28Z" fill="#e04a3c"/>
<path d="M102.65 181.03L105.4 186.28L99.9 186.28Z" fill="#e04a3c"/>
<path d="M116.79 181.03L119.54 186.28L114.04 186.28Z" fill="#e04a3c"/>
<path d="M145.09 181.03L147.84 186.28L142.34 186.28Z" fill="#e04a3c"/>
<path d="M173.38 181.03L176.13 186.28L170.63 186.28Z" fill="#e04a3c"/>
<path d="M215.82 181.03L218.57 186.28L213.07 186.28Z" fill="#e04a3c"/>
<path d="M242.09 181.03L244.84 186.28L239.34 186.28Z" fill="#e04a3c"/>
<path d="M262.3 181.03L265.05 186.28L259.55 186.28Z" fill="#e04a3c"/>
<path d="M46.06 90.97 L60.21 183.9 L74.36 183.9 L80.42 183.9 L88.5 183.9 L102.65 183.9 L116.79 183.9 L145.09 183.9 L173.38 183.9 L262.3 183.9" fill="none" stroke="#e04a3c" stroke-width="2.3" stroke-linejoin="round" stroke-linecap="round"/>
<path d="M46.06 87.97L49.06 90.97L46.06 93.97L43.06 90.97Z" fill="#e04a3c"/>
<path d="M60.21 180.9L63.21 183.9L60.21 186.9L57.21 183.9Z" fill="#e04a3c"/>
<path d="M74.36 180.9L77.36 183.9L74.36 186.9L71.36 183.9Z" fill="#e04a3c"/>
<path d="M80.42 180.9L83.42 183.9L80.42 186.9L77.42 183.9Z" fill="#e04a3c"/>
<path d="M88.5 180.9L91.5 183.9L88.5 186.9L85.5 183.9Z" fill="#e04a3c"/>
<path d="M102.65 180.9L105.65 183.9L102.65 186.9L99.65 183.9Z" fill="#e04a3c"/>
<path d="M116.79 180.9L119.79 183.9L116.79 186.9L113.79 183.9Z" fill="#e04a3c"/>
<path d="M145.09 180.9L148.09 183.9L145.09 186.9L142.09 183.9Z" fill="#e04a3c"/>
<path d="M173.38 180.9L176.38 183.9L173.38 186.9L170.38 183.9Z" fill="#e04a3c"/>
<path d="M262.3 180.9L265.3 183.9L262.3 186.9L259.3 183.9Z" fill="#e04a3c"/>
<path d="M46.06 42.78 L60.21 183.9 L74.36 183.9 L80.42 183.9 L88.5 174.61 L102.65 181.15 L116.79 183.9 L130.94 139.15 L145.09 183.9 L173.38 176.33 L215.82 183.9 L242.09 183.9 L262.3 183.9" fill="none" stroke="#6358b0" stroke-width="2.3" stroke-linejoin="round" stroke-linecap="round"/>
<circle cx="46.06" cy="42.78" r="2.8" fill="#6358b0"/>
<circle cx="60.21" cy="183.9" r="2.8" fill="#6358b0"/>
<circle cx="74.36" cy="183.9" r="2.8" fill="#6358b0"/>
<circle cx="80.42" cy="183.9" r="2.8" fill="#6358b0"/>
<circle cx="88.5" cy="174.61" r="2.8" fill="#6358b0"/>
<circle cx="102.65" cy="181.15" r="2.8" fill="#6358b0"/>
<circle cx="116.79" cy="183.9" r="2.8" fill="#6358b0"/>
<circle cx="130.94" cy="139.15" r="2.8" fill="#6358b0"/>
<circle cx="145.09" cy="183.9" r="2.8" fill="#6358b0"/>
<circle cx="173.38" cy="176.33" r="2.8" fill="#6358b0"/>
<circle cx="215.82" cy="183.9" r="2.8" fill="#6358b0"/>
<circle cx="242.09" cy="183.9" r="2.8" fill="#6358b0"/>
<circle cx="262.3" cy="183.9" r="2.8" fill="#6358b0"/>
<path d="M46.06 109.55 L60.21 183.9 L80.42 183.9 L88.5 183.9 L130.94 183.9 L173.38 183.9 L262.3 183.9" fill="none" stroke="#e04a3c" stroke-width="2.3" stroke-linejoin="round" stroke-linecap="round"/>
<circle cx="46.06" cy="109.55" r="2.8" fill="#e04a3c"/>
<circle cx="60.21" cy="183.9" r="2.8" fill="#e04a3c"/>
<circle cx="80.42" cy="183.9" r="2.8" fill="#e04a3c"/>
<circle cx="88.5" cy="183.9" r="2.8" fill="#e04a3c"/>
<circle cx="130.94" cy="183.9" r="2.8" fill="#e04a3c"/>
<circle cx="173.38" cy="183.9" r="2.8" fill="#e04a3c"/>
<circle cx="262.3" cy="183.9" r="2.8" fill="#e04a3c"/>
<path d="M46.06 61.71 L60.21 183.9 L66.27 183.9 L74.36 183.9 L80.42 183.9 L88.5 180.46 L102.65 183.9 L116.79 183.9 L145.09 183.9 L173.38 183.9 L215.82 183.9 L242.09 183.9" fill="none" stroke="#74c46c" stroke-width="2.3" stroke-linejoin="round" stroke-linecap="round"/>
<circle cx="46.06" cy="61.71" r="2.8" fill="#74c46c"/>
<circle cx="60.21" cy="183.9" r="2.8" fill="#74c46c"/>
<circle cx="66.27" cy="183.9" r="2.8" fill="#74c46c"/>
<circle cx="74.36" cy="183.9" r="2.8" fill="#74c46c"/>
<circle cx="80.42" cy="183.9" r="2.8" fill="#74c46c"/>
<circle cx="88.5" cy="180.46" r="2.8" fill="#74c46c"/>
<circle cx="102.65" cy="183.9" r="2.8" fill="#74c46c"/>
<circle cx="116.79" cy="183.9" r="2.8" fill="#74c46c"/>
<circle cx="145.09" cy="183.9" r="2.8" fill="#74c46c"/>
<circle cx="173.38" cy="183.9" r="2.8" fill="#74c46c"/>
<circle cx="215.82" cy="183.9" r="2.8" fill="#74c46c"/>
<circle cx="242.09" cy="183.9" r="2.8" fill="#74c46c"/>
<path d="M46.06 92.69 L60.21 88.56 L74.36 97.85 L80.42 118.5 L88.5 139.84 L102.65 115.06 L116.79 87.52 L145.09 52.42 L173.38 98.88 L262.3 117.47" fill="none" stroke="#000000" stroke-width="2.7" stroke-linejoin="round" stroke-linecap="round"/>
<path d="M46.06 89.94L48.81 92.69L46.06 95.44L43.31 92.69Z" fill="#000000"/>
<path d="M60.21 85.81L62.96 88.56L60.21 91.31L57.46 88.56Z" fill="#000000"/>
<path d="M74.36 95.1L77.11 97.85L74.36 100.6L71.61 97.85Z" fill="#000000"/>
<path d="M80.42 115.75L83.17 118.5L80.42 121.25L77.67 118.5Z" fill="#000000"/>
<path d="M88.5 137.09L91.25 139.84L88.5 142.59L85.75 139.84Z" fill="#000000"/>
<path d="M102.65 112.31L105.4 115.06L102.65 117.81L99.9 115.06Z" fill="#000000"/>
<path d="M116.79 84.77L119.54 87.52L116.79 90.27L114.04 87.52Z" fill="#000000"/>
<path d="M145.09 49.67L147.84 52.42L145.09 55.17L142.34 52.42Z" fill="#000000"/>
<path d="M173.38 96.13L176.13 98.88L173.38 101.63L170.63 98.88Z" fill="#000000"/>
<path d="M262.3 114.72L265.05 117.47L262.3 120.22L259.55 117.47Z" fill="#000000"/>
<path d="M46.06 78.57 L60.21 74.1 L74.36 101.29 L80.42 125.39 L88.5 114.03 L102.65 66.18 L116.79 51.04 L145.09 41.06 L173.38 89.93 L262.3 123.67" fill="none" stroke="#000000" stroke-width="2.7" stroke-linejoin="round" stroke-linecap="round"/>
<circle cx="46.06" cy="78.57" r="2.8" fill="#000000"/>
<circle cx="60.21" cy="74.1" r="2.8" fill="#000000"/>
<circle cx="74.36" cy="101.29" r="2.8" fill="#000000"/>
<circle cx="80.42" cy="125.39" r="2.8" fill="#000000"/>
<circle cx="88.5" cy="114.03" r="2.8" fill="#000000"/>
<circle cx="102.65" cy="66.18" r="2.8" fill="#000000"/>
<circle cx="116.79" cy="51.04" r="2.8" fill="#000000"/>
<circle cx="145.09" cy="41.06" r="2.8" fill="#000000"/>
<circle cx="173.38" cy="89.93" r="2.8" fill="#000000"/>
<circle cx="262.3" cy="123.67" r="2.8" fill="#000000"/>
<path d="M46.06 128.83 L60.21 119.36 L74.36 141.91 L80.42 150.86 L88.5 139.84 L102.65 121.94 L116.79 103.7 L145.09 114.03 L173.38 138.12 L262.3 120.91" fill="none" stroke="#000000" stroke-width="2.7" stroke-linejoin="round" stroke-linecap="round"/>
<path d="M46.06 126.3L48.48 130.92L43.64 130.92Z" fill="#000000"/>
<path d="M60.21 116.83L62.63 121.45L57.79 121.45Z" fill="#000000"/>
<path d="M74.36 139.38L76.78 144L71.94 144Z" fill="#000000"/>
<path d="M80.42 148.33L82.84 152.95L78 152.95Z" fill="#000000"/>
<path d="M88.5 137.31L90.92 141.93L86.08 141.93Z" fill="#000000"/>
<path d="M102.65 119.41L105.07 124.03L100.23 124.03Z" fill="#000000"/>
<path d="M116.79 101.17L119.21 105.79L114.37 105.79Z" fill="#000000"/>
<path d="M145.09 111.5L147.51 116.12L142.67 116.12Z" fill="#000000"/>
<path d="M173.38 135.59L175.8 140.21L170.96 140.21Z" fill="#000000"/>
<path d="M262.3 118.38L264.72 123L259.88 123Z" fill="#000000"/>
<path d="M46.06 90.97 L60.21 97.51 L74.36 85.8 L80.42 125.39 L88.5 139.84 L102.65 131.24 L116.79 51.04 L145.09 32.45 L173.38 89.93 L262.3 89.59" fill="none" stroke="#000000" stroke-width="2.7" stroke-linejoin="round" stroke-linecap="round"/>
<rect x="43.41" y="88.32" width="5.3" height="5.3" fill="#000000"/>
<rect x="57.56" y="94.86" width="5.3" height="5.3" fill="#000000"/>
<rect x="71.71" y="83.15" width="5.3" height="5.3" fill="#000000"/>
<rect x="77.77" y="122.74" width="5.3" height="5.3" fill="#000000"/>
<rect x="85.85" y="137.19" width="5.3" height="5.3" fill="#000000"/>
<rect x="100" y="128.59" width="5.3" height="5.3" fill="#000000"/>
<rect x="114.14" y="48.39" width="5.3" height="5.3" fill="#000000"/>
<rect x="142.44" y="29.8" width="5.3" height="5.3" fill="#000000"/>
<rect x="170.73" y="87.28" width="5.3" height="5.3" fill="#000000"/>
<rect x="259.65" y="86.94" width="5.3" height="5.3" fill="#000000"/>
<path d="M280.7 183.5 L312 183 L330.75 172.5 L351.5 177.5 L372 182.5 L417 183 L474.5 182" fill="none" stroke="#74c46c" stroke-width="2.3" stroke-linejoin="round" stroke-linecap="round"/>
<path d="M280.7 180.5L283.7 183.5L280.7 186.5L277.7 183.5Z" fill="#74c46c"/>
<path d="M312 180L315 183L312 186L309 183Z" fill="#74c46c"/>
<path d="M330.75 169.5L333.75 172.5L330.75 175.5L327.75 172.5Z" fill="#74c46c"/>
<path d="M351.5 174.5L354.5 177.5L351.5 180.5L348.5 177.5Z" fill="#74c46c"/>
<path d="M372 179.5L375 182.5L372 185.5L369 182.5Z" fill="#74c46c"/>
<path d="M417 180L420 183L417 186L414 183Z" fill="#74c46c"/>
<path d="M474.5 179L477.5 182L474.5 185L471.5 182Z" fill="#74c46c"/>
<path d="M280.7 183.5 L297 183 L330.75 180 L372 181 L417 183 L439 183 L474.5 182.5" fill="none" stroke="#74c46c" stroke-width="2.3" stroke-linejoin="round" stroke-linecap="round"/>
<rect x="278" y="180.8" width="5.4" height="5.4" fill="#74c46c"/>
<rect x="294.3" y="180.3" width="5.4" height="5.4" fill="#74c46c"/>
<rect x="328.05" y="177.3" width="5.4" height="5.4" fill="#74c46c"/>
<rect x="369.3" y="178.3" width="5.4" height="5.4" fill="#74c46c"/>
<rect x="414.3" y="180.3" width="5.4" height="5.4" fill="#74c46c"/>
<rect x="436.3" y="180.3" width="5.4" height="5.4" fill="#74c46c"/>
<rect x="471.8" y="179.8" width="5.4" height="5.4" fill="#74c46c"/>
<path d="M280.7 183.5 L297 183.5 L308.5 120 L330.75 65 L351 63 L372 57.5 L396 48" fill="none" stroke="#e04a3c" stroke-width="2.3" stroke-linejoin="round" stroke-linecap="round"/>
<path d="M280.7 180.62L283.45 185.88L277.95 185.88Z" fill="#e04a3c"/>
<path d="M297 180.62L299.75 185.88L294.25 185.88Z" fill="#e04a3c"/>
<path d="M308.5 117.12L311.25 122.38L305.75 122.38Z" fill="#e04a3c"/>
<path d="M330.75 62.12L333.5 67.38L328 67.38Z" fill="#e04a3c"/>
<path d="M351 60.12L353.75 65.38L348.25 65.38Z" fill="#e04a3c"/>
<path d="M372 54.62L374.75 59.88L369.25 59.88Z" fill="#e04a3c"/>
<path d="M396 45.12L398.75 50.38L393.25 50.38Z" fill="#e04a3c"/>
<path d="M280.7 183.5 L312 183 L330.75 153 L351.5 150.4 L372.7 142.3 L395.8 128.5 L416.9 114.6 L439 123.5 L474.5 103.75" fill="none" stroke="#e04a3c" stroke-width="2.3" stroke-linejoin="round" stroke-linecap="round"/>
<path d="M280.7 180.5L283.7 183.5L280.7 186.5L277.7 183.5Z" fill="#e04a3c"/>
<path d="M312 180L315 183L312 186L309 183Z" fill="#e04a3c"/>
<path d="M330.75 150L333.75 153L330.75 156L327.75 153Z" fill="#e04a3c"/>
<path d="M351.5 147.4L354.5 150.4L351.5 153.4L348.5 150.4Z" fill="#e04a3c"/>
<path d="M372.7 139.3L375.7 142.3L372.7 145.3L369.7 142.3Z" fill="#e04a3c"/>
<path d="M395.8 125.5L398.8 128.5L395.8 131.5L392.8 128.5Z" fill="#e04a3c"/>
<path d="M416.9 111.6L419.9 114.6L416.9 117.6L413.9 114.6Z" fill="#e04a3c"/>
<path d="M439 120.5L442 123.5L439 126.5L436 123.5Z" fill="#e04a3c"/>
<path d="M474.5 100.75L477.5 103.75L474.5 106.75L471.5 103.75Z" fill="#e04a3c"/>
<path d="M280.7 183.5 L297 183.5 L312 183 L330.75 162.5 L351.5 48.75 L372 23" fill="none" stroke="#6358b0" stroke-width="2.3" stroke-linejoin="round" stroke-linecap="round"/>
<circle cx="280.7" cy="183.5" r="2.8" fill="#6358b0"/>
<circle cx="297" cy="183.5" r="2.8" fill="#6358b0"/>
<circle cx="312" cy="183" r="2.8" fill="#6358b0"/>
<circle cx="330.75" cy="162.5" r="2.8" fill="#6358b0"/>
<circle cx="351.5" cy="48.75" r="2.8" fill="#6358b0"/>
<circle cx="372" cy="23" r="2.8" fill="#6358b0"/>
<path d="M280.7 183.5 L330.75 183.5 L372 180" fill="none" stroke="#e04a3c" stroke-width="2.3" stroke-linejoin="round" stroke-linecap="round"/>
<circle cx="280.7" cy="183.5" r="2.8" fill="#e04a3c"/>
<circle cx="330.75" cy="183.5" r="2.8" fill="#e04a3c"/>
<circle cx="372" cy="180" r="2.8" fill="#e04a3c"/>
<path d="M280.7 183.5 L297 183 L309 158.75 L330.75 123.75 L351.5 117.5 L372 101.3" fill="none" stroke="#74c46c" stroke-width="2.3" stroke-linejoin="round" stroke-linecap="round"/>
<circle cx="280.7" cy="183.5" r="2.8" fill="#74c46c"/>
<circle cx="297" cy="183" r="2.8" fill="#74c46c"/>
<circle cx="309" cy="158.75" r="2.8" fill="#74c46c"/>
<circle cx="330.75" cy="123.75" r="2.8" fill="#74c46c"/>
<circle cx="351.5" cy="117.5" r="2.8" fill="#74c46c"/>
<circle cx="372" cy="101.3" r="2.8" fill="#74c46c"/>
<path d="M280.7 117.8 L286.8 100.3 L331.2 104.4 L351.5 105.2 L372.7 112 L395.8 87.9 L416.9 87.9 L439 89.8 L474.5 103.75" fill="none" stroke="#000000" stroke-width="2.7" stroke-linejoin="round" stroke-linecap="round"/>
<path d="M280.7 115.05L283.45 117.8L280.7 120.55L277.95 117.8Z" fill="#000000"/>
<path d="M286.8 97.55L289.55 100.3L286.8 103.05L284.05 100.3Z" fill="#000000"/>
<path d="M331.2 101.65L333.95 104.4L331.2 107.15L328.45 104.4Z" fill="#000000"/>
<path d="M351.5 102.45L354.25 105.2L351.5 107.95L348.75 105.2Z" fill="#000000"/>
<path d="M372.7 109.25L375.45 112L372.7 114.75L369.95 112Z" fill="#000000"/>
<path d="M395.8 85.15L398.55 87.9L395.8 90.65L393.05 87.9Z" fill="#000000"/>
<path d="M416.9 85.15L419.65 87.9L416.9 90.65L414.15 87.9Z" fill="#000000"/>
<path d="M439 87.05L441.75 89.8L439 92.55L436.25 89.8Z" fill="#000000"/>
<path d="M474.5 101L477.25 103.75L474.5 106.5L471.75 103.75Z" fill="#000000"/>
<path d="M280.7 123.9 L287.5 79.5 L330.5 126.6 L351.5 97.5 L372.7 111 L395.8 125.4 L416.9 91.7 L439 71.5 L474.5 67 L501.25 38" fill="none" stroke="#000000" stroke-width="2.7" stroke-linejoin="round" stroke-linecap="round"/>
<circle cx="280.7" cy="123.9" r="2.8" fill="#000000"/>
<circle cx="287.5" cy="79.5" r="2.8" fill="#000000"/>
<circle cx="330.5" cy="126.6" r="2.8" fill="#000000"/>
<circle cx="351.5" cy="97.5" r="2.8" fill="#000000"/>
<circle cx="372.7" cy="111" r="2.8" fill="#000000"/>
<circle cx="395.8" cy="125.4" r="2.8" fill="#000000"/>
<circle cx="416.9" cy="91.7" r="2.8" fill="#000000"/>
<circle cx="439" cy="71.5" r="2.8" fill="#000000"/>
<circle cx="474.5" cy="67" r="2.8" fill="#000000"/>
<circle cx="501.25" cy="38" r="2.8" fill="#000000"/>
<path d="M280.7 123.9 L287.5 121.9 L331.2 149.4 L351.5 146.5 L372.7 135 L395.8 150.4 L416.9 150" fill="none" stroke="#000000" stroke-width="2.7" stroke-linejoin="round" stroke-linecap="round"/>
<path d="M280.7 121.37L283.12 125.99L278.28 125.99Z" fill="#000000"/>
<path d="M287.5 119.37L289.92 123.99L285.08 123.99Z" fill="#000000"/>
<path d="M331.2 146.87L333.62 151.49L328.78 151.49Z" fill="#000000"/>
<path d="M351.5 143.97L353.92 148.59L349.08 148.59Z" fill="#000000"/>
<path d="M372.7 132.47L375.12 137.09L370.28 137.09Z" fill="#000000"/>
<path d="M395.8 147.87L398.22 152.49L393.38 152.49Z" fill="#000000"/>
<path d="M416.9 147.47L419.32 152.09L414.48 152.09Z" fill="#000000"/>
<path d="M280.7 88.9 L288.1 92.9 L330.5 126.6 L351.5 120.6 L372.7 112 L395.8 112.9 L416.9 111.9 L439 94.6 L474.5 75.5 L501.25 73" fill="none" stroke="#000000" stroke-width="2.7" stroke-linejoin="round" stroke-linecap="round"/>
<rect x="278.05" y="86.25" width="5.3" height="5.3" fill="#000000"/>
<rect x="285.45" y="90.25" width="5.3" height="5.3" fill="#000000"/>
<rect x="327.85" y="123.95" width="5.3" height="5.3" fill="#000000"/>
<rect x="348.85" y="117.95" width="5.3" height="5.3" fill="#000000"/>
<rect x="370.05" y="109.35" width="5.3" height="5.3" fill="#000000"/>
<rect x="393.15" y="110.25" width="5.3" height="5.3" fill="#000000"/>
<rect x="414.25" y="109.25" width="5.3" height="5.3" fill="#000000"/>
<rect x="436.35" y="91.95" width="5.3" height="5.3" fill="#000000"/>
<rect x="471.85" y="72.85" width="5.3" height="5.3" fill="#000000"/>
<rect x="498.6" y="70.35" width="5.3" height="5.3" fill="#000000"/>
<path d="M51.99 314.31 L66.91 395.36 L73.3 396.98 L81.83 396.44 L96.74 388.87 L111.66 395.36 L124.45 387.25 L156.41 389.96 L203.29 395.9 L228.87 389.41 L258.7 376.34" fill="none" stroke="#74c46c" stroke-width="2.3" stroke-linejoin="round" stroke-linecap="round"/>
<path d="M51.99 311.31L54.99 314.31L51.99 317.31L48.99 314.31Z" fill="#74c46c"/>
<path d="M66.91 392.36L69.91 395.36L66.91 398.36L63.91 395.36Z" fill="#74c46c"/>
<path d="M73.3 393.98L76.3 396.98L73.3 399.98L70.3 396.98Z" fill="#74c46c"/>
<path d="M81.83 393.44L84.83 396.44L81.83 399.44L78.83 396.44Z" fill="#74c46c"/>
<path d="M96.74 385.87L99.74 388.87L96.74 391.87L93.74 388.87Z" fill="#74c46c"/>
<path d="M111.66 392.36L114.66 395.36L111.66 398.36L108.66 395.36Z" fill="#74c46c"/>
<path d="M124.45 384.25L127.45 387.25L124.45 390.25L121.45 387.25Z" fill="#74c46c"/>
<path d="M156.41 386.96L159.41 389.96L156.41 392.96L153.41 389.96Z" fill="#74c46c"/>
<path d="M203.29 392.9L206.29 395.9L203.29 398.9L200.29 395.9Z" fill="#74c46c"/>
<path d="M228.87 386.41L231.87 389.41L228.87 392.41L225.87 389.41Z" fill="#74c46c"/>
<path d="M258.7 373.34L261.7 376.34L258.7 379.34L255.7 376.34Z" fill="#74c46c"/>
<path d="M51.99 289.35 L66.91 395.36 L73.3 396.98 L81.83 394.28 L96.74 389.96 L111.66 393.2 L124.45 381.85 L141.5 375.04 L156.41 389.52 L203.29 370.72 L228.87 366.18 L258.7 343.49" fill="none" stroke="#74c46c" stroke-width="2.3" stroke-linejoin="round" stroke-linecap="round"/>
<rect x="49.29" y="286.65" width="5.4" height="5.4" fill="#74c46c"/>
<rect x="64.21" y="392.66" width="5.4" height="5.4" fill="#74c46c"/>
<rect x="70.6" y="394.28" width="5.4" height="5.4" fill="#74c46c"/>
<rect x="79.13" y="391.58" width="5.4" height="5.4" fill="#74c46c"/>
<rect x="94.04" y="387.26" width="5.4" height="5.4" fill="#74c46c"/>
<rect x="108.96" y="390.5" width="5.4" height="5.4" fill="#74c46c"/>
<rect x="121.75" y="379.15" width="5.4" height="5.4" fill="#74c46c"/>
<rect x="138.8" y="372.34" width="5.4" height="5.4" fill="#74c46c"/>
<rect x="153.71" y="386.82" width="5.4" height="5.4" fill="#74c46c"/>
<rect x="200.59" y="368.02" width="5.4" height="5.4" fill="#74c46c"/>
<rect x="226.17" y="363.48" width="5.4" height="5.4" fill="#74c46c"/>
<rect x="256" y="340.79" width="5.4" height="5.4" fill="#74c46c"/>
<path d="M51.99 357.86 L66.91 395.36 L73.3 397.52 L81.83 398.06 L88.22 398.6 L96.74 398.06 L111.66 397.52 L126.58 398.06 L141.5 398.6 L156.41 398.06 L203.29 398.6 L228.87 398.6 L258.7 398.6" fill="none" stroke="#e04a3c" stroke-width="2.3" stroke-linejoin="round" stroke-linecap="round"/>
<path d="M51.99 354.99L54.74 360.24L49.24 360.24Z" fill="#e04a3c"/>
<path d="M66.91 392.48L69.66 397.73L64.16 397.73Z" fill="#e04a3c"/>
<path d="M73.3 394.64L76.05 399.89L70.55 399.89Z" fill="#e04a3c"/>
<path d="M81.83 395.18L84.58 400.43L79.08 400.43Z" fill="#e04a3c"/>
<path d="M88.22 395.73L90.97 400.98L85.47 400.98Z" fill="#e04a3c"/>
<path d="M96.74 395.18L99.49 400.43L93.99 400.43Z" fill="#e04a3c"/>
<path d="M111.66 394.64L114.41 399.89L108.91 399.89Z" fill="#e04a3c"/>
<path d="M126.58 395.18L129.33 400.43L123.83 400.43Z" fill="#e04a3c"/>
<path d="M141.5 395.73L144.25 400.98L138.75 400.98Z" fill="#e04a3c"/>
<path d="M156.41 395.18L159.16 400.43L153.66 400.43Z" fill="#e04a3c"/>
<path d="M203.29 395.73L206.04 400.98L200.54 400.98Z" fill="#e04a3c"/>
<path d="M228.87 395.73L231.62 400.98L226.12 400.98Z" fill="#e04a3c"/>
<path d="M258.7 395.73L261.45 400.98L255.95 400.98Z" fill="#e04a3c"/>
<path d="M51.99 333.76 L66.91 395.36 L81.83 397.52 L96.74 397.52 L111.66 396.98 L126.58 397.52 L141.5 396.98 L156.41 397.52 L203.29 398.06 L258.7 398.06" fill="none" stroke="#e04a3c" stroke-width="2.3" stroke-linejoin="round" stroke-linecap="round"/>
<path d="M51.99 330.76L54.99 333.76L51.99 336.76L48.99 333.76Z" fill="#e04a3c"/>
<path d="M66.91 392.36L69.91 395.36L66.91 398.36L63.91 395.36Z" fill="#e04a3c"/>
<path d="M81.83 394.52L84.83 397.52L81.83 400.52L78.83 397.52Z" fill="#e04a3c"/>
<path d="M96.74 394.52L99.74 397.52L96.74 400.52L93.74 397.52Z" fill="#e04a3c"/>
<path d="M111.66 393.98L114.66 396.98L111.66 399.98L108.66 396.98Z" fill="#e04a3c"/>
<path d="M126.58 394.52L129.58 397.52L126.58 400.52L123.58 397.52Z" fill="#e04a3c"/>
<path d="M141.5 393.98L144.5 396.98L141.5 399.98L138.5 396.98Z" fill="#e04a3c"/>
<path d="M156.41 394.52L159.41 397.52L156.41 400.52L153.41 397.52Z" fill="#e04a3c"/>
<path d="M203.29 395.06L206.29 398.06L203.29 401.06L200.29 398.06Z" fill="#e04a3c"/>
<path d="M258.7 395.06L261.7 398.06L258.7 401.06L255.7 398.06Z" fill="#e04a3c"/>
<path d="M51.99 243.53 L66.91 392.66 L81.83 397.52 L88.22 398.6 L96.74 379.15 L111.66 393.74 L125.51 394.28 L141.5 364.24 L156.41 394.82 L186.25 396.98 L203.29 398.06" fill="none" stroke="#6358b0" stroke-width="2.3" stroke-linejoin="round" stroke-linecap="round"/>
<circle cx="51.99" cy="243.53" r="2.8" fill="#6358b0"/>
<circle cx="66.91" cy="392.66" r="2.8" fill="#6358b0"/>
<circle cx="81.83" cy="397.52" r="2.8" fill="#6358b0"/>
<circle cx="88.22" cy="398.6" r="2.8" fill="#6358b0"/>
<circle cx="96.74" cy="379.15" r="2.8" fill="#6358b0"/>
<circle cx="111.66" cy="393.74" r="2.8" fill="#6358b0"/>
<circle cx="125.51" cy="394.28" r="2.8" fill="#6358b0"/>
<circle cx="141.5" cy="364.24" r="2.8" fill="#6358b0"/>
<circle cx="156.41" cy="394.82" r="2.8" fill="#6358b0"/>
<circle cx="186.25" cy="396.98" r="2.8" fill="#6358b0"/>
<circle cx="203.29" cy="398.06" r="2.8" fill="#6358b0"/>
<path d="M51.99 340.57 L66.91 395.36 L73.3 398.06 L96.74 398.6 L126.58 398.6 L156.41 398.6 L203.29 398.6 L258.7 398.06" fill="none" stroke="#e04a3c" stroke-width="2.3" stroke-linejoin="round" stroke-linecap="round"/>
<circle cx="51.99" cy="340.57" r="2.8" fill="#e04a3c"/>
<circle cx="66.91" cy="395.36" r="2.8" fill="#e04a3c"/>
<circle cx="73.3" cy="398.06" r="2.8" fill="#e04a3c"/>
<circle cx="96.74" cy="398.6" r="2.8" fill="#e04a3c"/>
<circle cx="126.58" cy="398.6" r="2.8" fill="#e04a3c"/>
<circle cx="156.41" cy="398.6" r="2.8" fill="#e04a3c"/>
<circle cx="203.29" cy="398.6" r="2.8" fill="#e04a3c"/>
<circle cx="258.7" cy="398.06" r="2.8" fill="#e04a3c"/>
<path d="M51.99 277.79 L66.91 395.36 L73.3 396.44 L81.83 393.74 L96.74 387.79 L111.66 394.28 L124.45 385.63 L141.5 376.99 L156.41 388.87 L203.29 398.06 L228.87 398.6 L258.7 398.6" fill="none" stroke="#74c46c" stroke-width="2.3" stroke-linejoin="round" stroke-linecap="round"/>
<circle cx="51.99" cy="277.79" r="2.8" fill="#74c46c"/>
<circle cx="66.91" cy="395.36" r="2.8" fill="#74c46c"/>
<circle cx="73.3" cy="396.44" r="2.8" fill="#74c46c"/>
<circle cx="81.83" cy="393.74" r="2.8" fill="#74c46c"/>
<circle cx="96.74" cy="387.79" r="2.8" fill="#74c46c"/>
<circle cx="111.66" cy="394.28" r="2.8" fill="#74c46c"/>
<circle cx="124.45" cy="385.63" r="2.8" fill="#74c46c"/>
<circle cx="141.5" cy="376.99" r="2.8" fill="#74c46c"/>
<circle cx="156.41" cy="388.87" r="2.8" fill="#74c46c"/>
<circle cx="203.29" cy="398.06" r="2.8" fill="#74c46c"/>
<circle cx="228.87" cy="398.6" r="2.8" fill="#74c46c"/>
<circle cx="258.7" cy="398.6" r="2.8" fill="#74c46c"/>
<path d="M276.25 362.5 L282.5 363.75 L292.5 356.25 L303.75 351.25 L326.25 360 L346.25 362.5 L365 372.5 L391.25 383 L412.5 378.3 L434.5 383 L468.75 380" fill="none" stroke="#74c46c" stroke-width="2.3" stroke-linejoin="round" stroke-linecap="round"/>
<path d="M276.25 359.5L279.25 362.5L276.25 365.5L273.25 362.5Z" fill="#74c46c"/>
<path d="M282.5 360.75L285.5 363.75L282.5 366.75L279.5 363.75Z" fill="#74c46c"/>
<path d="M292.5 353.25L295.5 356.25L292.5 359.25L289.5 356.25Z" fill="#74c46c"/>
<path d="M303.75 348.25L306.75 351.25L303.75 354.25L300.75 351.25Z" fill="#74c46c"/>
<path d="M326.25 357L329.25 360L326.25 363L323.25 360Z" fill="#74c46c"/>
<path d="M346.25 359.5L349.25 362.5L346.25 365.5L343.25 362.5Z" fill="#74c46c"/>
<path d="M365 369.5L368 372.5L365 375.5L362 372.5Z" fill="#74c46c"/>
<path d="M391.25 380L394.25 383L391.25 386L388.25 383Z" fill="#74c46c"/>
<path d="M412.5 375.3L415.5 378.3L412.5 381.3L409.5 378.3Z" fill="#74c46c"/>
<path d="M434.5 380L437.5 383L434.5 386L431.5 383Z" fill="#74c46c"/>
<path d="M468.75 377L471.75 380L468.75 383L465.75 380Z" fill="#74c46c"/>
<path d="M276.25 327.5 L282.5 317.5 L291.25 293.75 L296.25 291.25 L303.75 287.5 L326.25 263.75 L346.25 275 L365 308.75 L391.25 304.5 L412.5 328.75 L434.5 303.75 L468.75 326.25" fill="none" stroke="#74c46c" stroke-width="2.3" stroke-linejoin="round" stroke-linecap="round"/>
<rect x="273.55" y="324.8" width="5.4" height="5.4" fill="#74c46c"/>
<rect x="279.8" y="314.8" width="5.4" height="5.4" fill="#74c46c"/>
<rect x="288.55" y="291.05" width="5.4" height="5.4" fill="#74c46c"/>
<rect x="293.55" y="288.55" width="5.4" height="5.4" fill="#74c46c"/>
<rect x="301.05" y="284.8" width="5.4" height="5.4" fill="#74c46c"/>
<rect x="323.55" y="261.05" width="5.4" height="5.4" fill="#74c46c"/>
<rect x="343.55" y="272.3" width="5.4" height="5.4" fill="#74c46c"/>
<rect x="362.3" y="306.05" width="5.4" height="5.4" fill="#74c46c"/>
<rect x="388.55" y="301.8" width="5.4" height="5.4" fill="#74c46c"/>
<rect x="409.8" y="326.05" width="5.4" height="5.4" fill="#74c46c"/>
<rect x="431.8" y="301.05" width="5.4" height="5.4" fill="#74c46c"/>
<rect x="466.05" y="323.55" width="5.4" height="5.4" fill="#74c46c"/>
<path d="M276.25 398 L293.75 397.5 L305 362.5 L326.25 303.75 L346.25 278.75 L365 281.25 L391.4 248.8" fill="none" stroke="#e04a3c" stroke-width="2.3" stroke-linejoin="round" stroke-linecap="round"/>
<path d="M276.25 395.12L279 400.38L273.5 400.38Z" fill="#e04a3c"/>
<path d="M293.75 394.62L296.5 399.88L291 399.88Z" fill="#e04a3c"/>
<path d="M305 359.62L307.75 364.88L302.25 364.88Z" fill="#e04a3c"/>
<path d="M326.25 300.88L329 306.12L323.5 306.12Z" fill="#e04a3c"/>
<path d="M346.25 275.88L349 281.12L343.5 281.12Z" fill="#e04a3c"/>
<path d="M365 278.38L367.75 283.62L362.25 283.62Z" fill="#e04a3c"/>
<path d="M391.4 245.93L394.15 251.18L388.65 251.18Z" fill="#e04a3c"/>
<path d="M276.25 398 L282.5 398 L297.5 398 L306.25 397.5 L327.5 375 L346.25 358.75 L365 366.25 L391.25 360 L412.5 360 L434.5 351.25 L468.75 355" fill="none" stroke="#e04a3c" stroke-width="2.3" stroke-linejoin="round" stroke-linecap="round"/>
<path d="M276.25 395L279.25 398L276.25 401L273.25 398Z" fill="#e04a3c"/>
<path d="M282.5 395L285.5 398L282.5 401L279.5 398Z" fill="#e04a3c"/>
<path d="M297.5 395L300.5 398L297.5 401L294.5 398Z" fill="#e04a3c"/>
<path d="M306.25 394.5L309.25 397.5L306.25 400.5L303.25 397.5Z" fill="#e04a3c"/>
<path d="M327.5 372L330.5 375L327.5 378L324.5 375Z" fill="#e04a3c"/>
<path d="M346.25 355.75L349.25 358.75L346.25 361.75L343.25 358.75Z" fill="#e04a3c"/>
<path d="M365 363.25L368 366.25L365 369.25L362 366.25Z" fill="#e04a3c"/>
<path d="M391.25 357L394.25 360L391.25 363L388.25 360Z" fill="#e04a3c"/>
<path d="M412.5 357L415.5 360L412.5 363L409.5 360Z" fill="#e04a3c"/>
<path d="M434.5 348.25L437.5 351.25L434.5 354.25L431.5 351.25Z" fill="#e04a3c"/>
<path d="M468.75 352L471.75 355L468.75 358L465.75 355Z" fill="#e04a3c"/>
<path d="M276.25 398 L306.25 397.5 L326.25 387.5 L346.4 280.8 L364.6 248.8" fill="none" stroke="#6358b0" stroke-width="2.3" stroke-linejoin="round" stroke-linecap="round"/>
<circle cx="276.25" cy="398" r="2.8" fill="#6358b0"/>
<circle cx="306.25" cy="397.5" r="2.8" fill="#6358b0"/>
<circle cx="326.25" cy="387.5" r="2.8" fill="#6358b0"/>
<circle cx="346.4" cy="280.8" r="2.8" fill="#6358b0"/>
<circle cx="364.6" cy="248.8" r="2.8" fill="#6358b0"/>
<path d="M276.25 398 L326.25 398 L346.25 398 L364.6 305" fill="none" stroke="#e04a3c" stroke-width="2.3" stroke-linejoin="round" stroke-linecap="round"/>
<circle cx="276.25" cy="398" r="2.8" fill="#e04a3c"/>
<circle cx="326.25" cy="398" r="2.8" fill="#e04a3c"/>
<circle cx="346.25" cy="398" r="2.8" fill="#e04a3c"/>
<circle cx="364.6" cy="305" r="2.8" fill="#e04a3c"/>
<path d="M276.25 397.5 L292 308.75 L295.5 292.5 L303.75 300 L326.25 267.5 L346.25 273.75 L365 302.5" fill="none" stroke="#74c46c" stroke-width="2.3" stroke-linejoin="round" stroke-linecap="round"/>
<circle cx="276.25" cy="397.5" r="2.8" fill="#74c46c"/>
<circle cx="292" cy="308.75" r="2.8" fill="#74c46c"/>
<circle cx="295.5" cy="292.5" r="2.8" fill="#74c46c"/>
<circle cx="303.75" cy="300" r="2.8" fill="#74c46c"/>
<circle cx="326.25" cy="267.5" r="2.8" fill="#74c46c"/>
<circle cx="346.25" cy="273.75" r="2.8" fill="#74c46c"/>
<circle cx="365" cy="302.5" r="2.8" fill="#74c46c"/>
<path d="M46.3 544.57 L60.55 619.97 L78.86 616.87 L89.03 614.65 L117.51 614.65 L146 615.98 L264 576.51" fill="none" stroke="#74c46c" stroke-width="2.3" stroke-linejoin="round" stroke-linecap="round"/>
<path d="M46.3 541.57L49.3 544.57L46.3 547.57L43.3 544.57Z" fill="#74c46c"/>
<path d="M60.55 616.97L63.55 619.97L60.55 622.97L57.55 619.97Z" fill="#74c46c"/>
<path d="M78.86 613.87L81.86 616.87L78.86 619.87L75.86 616.87Z" fill="#74c46c"/>
<path d="M89.03 611.65L92.03 614.65L89.03 617.65L86.03 614.65Z" fill="#74c46c"/>
<path d="M117.51 611.65L120.51 614.65L117.51 617.65L114.51 614.65Z" fill="#74c46c"/>
<path d="M146 612.98L149 615.98L146 618.98L143 615.98Z" fill="#74c46c"/>
<path d="M264 573.51L267 576.51L264 579.51L261 576.51Z" fill="#74c46c"/>
<path d="M46.3 523.73 L60.55 619.97 L78.86 616.87 L89.03 614.65 L117.51 601.79 L146 606.22 L264 588.48" fill="none" stroke="#74c46c" stroke-width="2.3" stroke-linejoin="round" stroke-linecap="round"/>
<rect x="43.6" y="521.03" width="5.4" height="5.4" fill="#74c46c"/>
<rect x="57.85" y="617.27" width="5.4" height="5.4" fill="#74c46c"/>
<rect x="76.16" y="614.16" width="5.4" height="5.4" fill="#74c46c"/>
<rect x="86.33" y="611.95" width="5.4" height="5.4" fill="#74c46c"/>
<rect x="114.81" y="599.09" width="5.4" height="5.4" fill="#74c46c"/>
<rect x="143.3" y="603.52" width="5.4" height="5.4" fill="#74c46c"/>
<rect x="261.3" y="585.78" width="5.4" height="5.4" fill="#74c46c"/>
<path d="M46.3 553.44 L60.55 621.3 L78.86 621.3 L89.03 621.3 L117.51 621.3 L146 621.3 L264 621.3" fill="none" stroke="#e04a3c" stroke-width="2.3" stroke-linejoin="round" stroke-linecap="round"/>
<path d="M46.3 550.57L49.05 555.82L43.55 555.82Z" fill="#e04a3c"/>
<path d="M60.55 618.42L63.3 623.67L57.8 623.67Z" fill="#e04a3c"/>
<path d="M78.86 618.42L81.61 623.67L76.11 623.67Z" fill="#e04a3c"/>
<path d="M89.03 618.42L91.78 623.67L86.28 623.67Z" fill="#e04a3c"/>
<path d="M117.51 618.42L120.26 623.67L114.76 623.67Z" fill="#e04a3c"/>
<path d="M146 618.42L148.75 623.67L143.25 623.67Z" fill="#e04a3c"/>
<path d="M264 618.42L266.75 623.67L261.25 623.67Z" fill="#e04a3c"/>
<path d="M46.3 575.62 L60.55 621.3 L78.86 621.3 L89.03 621.3 L117.51 621.3 L146 621.3 L264 621.3" fill="none" stroke="#e04a3c" stroke-width="2.3" stroke-linejoin="round" stroke-linecap="round"/>
<path d="M46.3 572.62L49.3 575.62L46.3 578.62L43.3 575.62Z" fill="#e04a3c"/>
<path d="M60.55 618.3L63.55 621.3L60.55 624.3L57.55 621.3Z" fill="#e04a3c"/>
<path d="M78.86 618.3L81.86 621.3L78.86 624.3L75.86 621.3Z" fill="#e04a3c"/>
<path d="M89.03 618.3L92.03 621.3L89.03 624.3L86.03 621.3Z" fill="#e04a3c"/>
<path d="M117.51 618.3L120.51 621.3L117.51 624.3L114.51 621.3Z" fill="#e04a3c"/>
<path d="M146 618.3L149 621.3L146 624.3L143 621.3Z" fill="#e04a3c"/>
<path d="M264 618.3L267 621.3L264 624.3L261 621.3Z" fill="#e04a3c"/>
<path d="M46.3 581.38 L60.55 619.97 L78.86 619.08 L89.03 619.08 L117.51 612.43 L146 619.08 L264 621.3" fill="none" stroke="#6358b0" stroke-width="2.3" stroke-linejoin="round" stroke-linecap="round"/>
<circle cx="46.3" cy="581.38" r="2.8" fill="#6358b0"/>
<circle cx="60.55" cy="619.97" r="2.8" fill="#6358b0"/>
<circle cx="78.86" cy="619.08" r="2.8" fill="#6358b0"/>
<circle cx="89.03" cy="619.08" r="2.8" fill="#6358b0"/>
<circle cx="117.51" cy="612.43" r="2.8" fill="#6358b0"/>
<circle cx="146" cy="619.08" r="2.8" fill="#6358b0"/>
<circle cx="264" cy="621.3" r="2.8" fill="#6358b0"/>
<path d="M46.3 572.51 L60.55 621.3 L78.86 621.3 L89.03 621.3 L117.51 621.3 L146 621.3 L264 620.41" fill="none" stroke="#e04a3c" stroke-width="2.3" stroke-linejoin="round" stroke-linecap="round"/>
<circle cx="46.3" cy="572.51" r="2.8" fill="#e04a3c"/>
<circle cx="60.55" cy="621.3" r="2.8" fill="#e04a3c"/>
<circle cx="78.86" cy="621.3" r="2.8" fill="#e04a3c"/>
<circle cx="89.03" cy="621.3" r="2.8" fill="#e04a3c"/>
<circle cx="117.51" cy="621.3" r="2.8" fill="#e04a3c"/>
<circle cx="146" cy="621.3" r="2.8" fill="#e04a3c"/>
<circle cx="264" cy="620.41" r="2.8" fill="#e04a3c"/>
<path d="M46.3 532.6 L60.55 619.97 L78.86 617.75 L89.03 615.98 L117.51 616.87 L146 616.87 L264 610.21" fill="none" stroke="#74c46c" stroke-width="2.3" stroke-linejoin="round" stroke-linecap="round"/>
<circle cx="46.3" cy="532.6" r="2.8" fill="#74c46c"/>
<circle cx="60.55" cy="619.97" r="2.8" fill="#74c46c"/>
<circle cx="78.86" cy="617.75" r="2.8" fill="#74c46c"/>
<circle cx="89.03" cy="615.98" r="2.8" fill="#74c46c"/>
<circle cx="117.51" cy="616.87" r="2.8" fill="#74c46c"/>
<circle cx="146" cy="616.87" r="2.8" fill="#74c46c"/>
<circle cx="264" cy="610.21" r="2.8" fill="#74c46c"/>
<path d="M46.3 525.06 L78.86 502.89 L89.03 543.69 L117.51 456.76 L146 487.36 L264 477.61" fill="none" stroke="#000000" stroke-width="2.7" stroke-linejoin="round" stroke-linecap="round"/>
<path d="M46.3 522.31L49.05 525.06L46.3 527.81L43.55 525.06Z" fill="#000000"/>
<path d="M78.86 500.14L81.61 502.89L78.86 505.64L76.11 502.89Z" fill="#000000"/>
<path d="M89.03 540.94L91.78 543.69L89.03 546.44L86.28 543.69Z" fill="#000000"/>
<path d="M117.51 454.01L120.26 456.76L117.51 459.51L114.76 456.76Z" fill="#000000"/>
<path d="M146 484.61L148.75 487.36L146 490.11L143.25 487.36Z" fill="#000000"/>
<path d="M264 474.86L266.75 477.61L264 480.36L261.25 477.61Z" fill="#000000"/>
<path d="M46.3 517.52 L78.86 478.94 L89.03 543.69 L117.51 502.89 L146 493.57 L264 500.67" fill="none" stroke="#000000" stroke-width="2.7" stroke-linejoin="round" stroke-linecap="round"/>
<circle cx="46.3" cy="517.52" r="2.8" fill="#000000"/>
<circle cx="78.86" cy="478.94" r="2.8" fill="#000000"/>
<circle cx="89.03" cy="543.69" r="2.8" fill="#000000"/>
<circle cx="117.51" cy="502.89" r="2.8" fill="#000000"/>
<circle cx="146" cy="493.57" r="2.8" fill="#000000"/>
<circle cx="264" cy="500.67" r="2.8" fill="#000000"/>
<path d="M46.3 564.98 L78.86 518.41 L89.03 554.33 L117.51 531.71 L146 533.93 L264 521.96" fill="none" stroke="#000000" stroke-width="2.7" stroke-linejoin="round" stroke-linecap="round"/>
<path d="M46.3 562.45L48.72 567.07L43.88 567.07Z" fill="#000000"/>
<path d="M78.86 515.88L81.28 520.5L76.44 520.5Z" fill="#000000"/>
<path d="M89.03 551.8L91.45 556.42L86.61 556.42Z" fill="#000000"/>
<path d="M117.51 529.18L119.93 533.8L115.09 533.8Z" fill="#000000"/>
<path d="M146 531.4L148.42 536.02L143.58 536.02Z" fill="#000000"/>
<path d="M264 519.43L266.42 524.05L261.58 524.05Z" fill="#000000"/>
<path d="M46.3 529.94 L78.86 506.88 L89.03 556.99 L117.51 487.36 L146 491.35 L264 499.34" fill="none" stroke="#000000" stroke-width="2.7" stroke-linejoin="round" stroke-linecap="round"/>
<rect x="43.65" y="527.29" width="5.3" height="5.3" fill="#000000"/>
<rect x="76.21" y="504.23" width="5.3" height="5.3" fill="#000000"/>
<rect x="86.38" y="554.34" width="5.3" height="5.3" fill="#000000"/>
<rect x="114.86" y="484.71" width="5.3" height="5.3" fill="#000000"/>
<rect x="143.35" y="488.7" width="5.3" height="5.3" fill="#000000"/>
<rect x="261.35" y="496.69" width="5.3" height="5.3" fill="#000000"/>
<path d="M280 566.25 L314 542.5 L336.5 556.25 L361.25 558 L389.5 560.5 L408 547 L472.5 529.5" fill="none" stroke="#74c46c" stroke-width="2.3" stroke-linejoin="round" stroke-linecap="round"/>
<path d="M280 563.25L283 566.25L280 569.25L277 566.25Z" fill="#74c46c"/>
<path d="M314 539.5L317 542.5L314 545.5L311 542.5Z" fill="#74c46c"/>
<path d="M336.5 553.25L339.5 556.25L336.5 559.25L333.5 556.25Z" fill="#74c46c"/>
<path d="M361.25 555L364.25 558L361.25 561L358.25 558Z" fill="#74c46c"/>
<path d="M389.5 557.5L392.5 560.5L389.5 563.5L386.5 560.5Z" fill="#74c46c"/>
<path d="M408 544L411 547L408 550L405 547Z" fill="#74c46c"/>
<path d="M472.5 526.5L475.5 529.5L472.5 532.5L469.5 529.5Z" fill="#74c46c"/>
<path d="M280 594.5 L314 562 L336.5 570 L361.25 571.25 L389.5 570 L408 565 L472.5 568" fill="none" stroke="#74c46c" stroke-width="2.3" stroke-linejoin="round" stroke-linecap="round"/>
<rect x="277.3" y="591.8" width="5.4" height="5.4" fill="#74c46c"/>
<rect x="311.3" y="559.3" width="5.4" height="5.4" fill="#74c46c"/>
<rect x="333.8" y="567.3" width="5.4" height="5.4" fill="#74c46c"/>
<rect x="358.55" y="568.55" width="5.4" height="5.4" fill="#74c46c"/>
<rect x="386.8" y="567.3" width="5.4" height="5.4" fill="#74c46c"/>
<rect x="405.3" y="562.3" width="5.4" height="5.4" fill="#74c46c"/>
<rect x="469.8" y="565.3" width="5.4" height="5.4" fill="#74c46c"/>
<path d="M280 621 L314 570 L336.5 537.5 L389.5 533.75" fill="none" stroke="#e04a3c" stroke-width="2.3" stroke-linejoin="round" stroke-linecap="round"/>
<path d="M280 618.12L282.75 623.38L277.25 623.38Z" fill="#e04a3c"/>
<path d="M314 567.12L316.75 572.38L311.25 572.38Z" fill="#e04a3c"/>
<path d="M336.5 534.62L339.25 539.88L333.75 539.88Z" fill="#e04a3c"/>
<path d="M389.5 530.88L392.25 536.12L386.75 536.12Z" fill="#e04a3c"/>
<path d="M280 621 L314 615 L336.5 593.75 L361.25 585.5 L389.5 555.5" fill="none" stroke="#e04a3c" stroke-width="2.3" stroke-linejoin="round" stroke-linecap="round"/>
<path d="M280 618L283 621L280 624L277 621Z" fill="#e04a3c"/>
<path d="M314 612L317 615L314 618L311 615Z" fill="#e04a3c"/>
<path d="M336.5 590.75L339.5 593.75L336.5 596.75L333.5 593.75Z" fill="#e04a3c"/>
<path d="M361.25 582.5L364.25 585.5L361.25 588.5L358.25 585.5Z" fill="#e04a3c"/>
<path d="M389.5 552.5L392.5 555.5L389.5 558.5L386.5 555.5Z" fill="#e04a3c"/>
<path d="M314 615 L336.5 572.5 L361.25 566.25" fill="none" stroke="#6358b0" stroke-width="2.3" stroke-linejoin="round" stroke-linecap="round"/>
<circle cx="314" cy="615" r="2.8" fill="#6358b0"/>
<circle cx="336.5" cy="572.5" r="2.8" fill="#6358b0"/>
<circle cx="361.25" cy="566.25" r="2.8" fill="#6358b0"/>
<path d="M280 621 L314 621 L336.5 621 L361.25 573.75" fill="none" stroke="#e04a3c" stroke-width="2.3" stroke-linejoin="round" stroke-linecap="round"/>
<circle cx="280" cy="621" r="2.8" fill="#e04a3c"/>
<circle cx="314" cy="621" r="2.8" fill="#e04a3c"/>
<circle cx="336.5" cy="621" r="2.8" fill="#e04a3c"/>
<circle cx="361.25" cy="573.75" r="2.8" fill="#e04a3c"/>
<path d="M280 540.5 L336.5 534.5 L361.25 545" fill="none" stroke="#74c46c" stroke-width="2.3" stroke-linejoin="round" stroke-linecap="round"/>
<circle cx="280" cy="540.5" r="2.8" fill="#74c46c"/>
<circle cx="336.5" cy="534.5" r="2.8" fill="#74c46c"/>
<circle cx="361.25" cy="545" r="2.8" fill="#74c46c"/>
<path d="M280 461.25 L361.25 466.25 L472 474.5 L494.5 470.5" fill="none" stroke="#000000" stroke-width="2.7" stroke-linejoin="round" stroke-linecap="round"/>
<path d="M280 458.5L282.75 461.25L280 464L277.25 461.25Z" fill="#000000"/>
<path d="M361.25 463.5L364 466.25L361.25 469L358.5 466.25Z" fill="#000000"/>
<path d="M472 471.75L474.75 474.5L472 477.25L469.25 474.5Z" fill="#000000"/>
<path d="M494.5 467.75L497.25 470.5L494.5 473.25L491.75 470.5Z" fill="#000000"/>
<path d="M280 516.25 L361.25 523 L472 524.5 L494.5 524.5" fill="none" stroke="#000000" stroke-width="2.7" stroke-linejoin="round" stroke-linecap="round"/>
<circle cx="280" cy="516.25" r="2.8" fill="#000000"/>
<circle cx="361.25" cy="523" r="2.8" fill="#000000"/>
<circle cx="472" cy="524.5" r="2.8" fill="#000000"/>
<circle cx="494.5" cy="524.5" r="2.8" fill="#000000"/>
<path d="M280 526.25 L361.25 540.5" fill="none" stroke="#000000" stroke-width="2.7" stroke-linejoin="round" stroke-linecap="round"/>
<path d="M280 523.72L282.42 528.34L277.58 528.34Z" fill="#000000"/>
<path d="M361.25 537.97L363.67 542.59L358.83 542.59Z" fill="#000000"/>
<path d="M280 490 L361.25 495.5 L494.5 485" fill="none" stroke="#000000" stroke-width="2.7" stroke-linejoin="round" stroke-linecap="round"/>
<rect x="277.35" y="487.35" width="5.3" height="5.3" fill="#000000"/>
<rect x="358.6" y="492.85" width="5.3" height="5.3" fill="#000000"/>
<rect x="491.85" y="482.35" width="5.3" height="5.3" fill="#000000"/>
<path d="M47.01 766.55 L61.05 834.13 L81.09 806.62 L89.11 818.58 L103.14 819.78 L117.17 800.64 L145.24 830.54 L261.5 817.38" fill="none" stroke="#3cb04a" stroke-width="2.7" stroke-linejoin="round" stroke-linecap="round"/>
<path d="M47.01 763.55L50.01 766.55L47.01 769.55L44.01 766.55Z" fill="#3cb04a"/>
<path d="M61.05 831.13L64.05 834.13L61.05 837.13L58.05 834.13Z" fill="#3cb04a"/>
<path d="M81.09 803.62L84.09 806.62L81.09 809.62L78.09 806.62Z" fill="#3cb04a"/>
<path d="M89.11 815.58L92.11 818.58L89.11 821.58L86.11 818.58Z" fill="#3cb04a"/>
<path d="M103.14 816.78L106.14 819.78L103.14 822.78L100.14 819.78Z" fill="#3cb04a"/>
<path d="M117.17 797.64L120.17 800.64L117.17 803.64L114.17 800.64Z" fill="#3cb04a"/>
<path d="M145.24 827.54L148.24 830.54L145.24 833.54L142.24 830.54Z" fill="#3cb04a"/>
<path d="M261.5 814.38L264.5 817.38L261.5 820.38L258.5 817.38Z" fill="#3cb04a"/>
<path d="M47.01 698.98 L61.05 802.43 L89.11 835.32 L103.14 833.53 L117.17 814.39 L145.24 808.41 L215.4 814.39 L261.5 817.38" fill="none" stroke="#3cb04a" stroke-width="2.7" stroke-linejoin="round" stroke-linecap="round"/>
<rect x="44.31" y="696.28" width="5.4" height="5.4" fill="#3cb04a"/>
<rect x="58.35" y="799.73" width="5.4" height="5.4" fill="#3cb04a"/>
<rect x="86.41" y="832.62" width="5.4" height="5.4" fill="#3cb04a"/>
<rect x="100.44" y="830.83" width="5.4" height="5.4" fill="#3cb04a"/>
<rect x="114.47" y="811.69" width="5.4" height="5.4" fill="#3cb04a"/>
<rect x="142.54" y="805.71" width="5.4" height="5.4" fill="#3cb04a"/>
<rect x="212.7" y="811.69" width="5.4" height="5.4" fill="#3cb04a"/>
<rect x="258.8" y="814.68" width="5.4" height="5.4" fill="#3cb04a"/>
<path d="M47.01 739.64 L61.05 842.5 L81.09 837.72 L89.11 840.71 L103.14 839.51 L117.17 842.5 L145.24 842.5 L261.5 842.5" fill="none" stroke="#dc3a30" stroke-width="2.7" stroke-linejoin="round" stroke-linecap="round"/>
<path d="M47.01 736.77L49.76 742.02L44.26 742.02Z" fill="#dc3a30"/>
<path d="M61.05 839.62L63.8 844.88L58.3 844.88Z" fill="#dc3a30"/>
<path d="M81.09 834.84L83.84 840.09L78.34 840.09Z" fill="#dc3a30"/>
<path d="M89.11 837.83L91.86 843.08L86.36 843.08Z" fill="#dc3a30"/>
<path d="M103.14 836.63L105.89 841.88L100.39 841.88Z" fill="#dc3a30"/>
<path d="M117.17 839.62L119.92 844.88L114.42 844.88Z" fill="#dc3a30"/>
<path d="M145.24 839.62L147.99 844.88L142.49 844.88Z" fill="#dc3a30"/>
<path d="M261.5 839.62L264.25 844.88L258.75 844.88Z" fill="#dc3a30"/>
<path d="M47.01 777.92 L61.05 841.3 L81.09 839.51 L103.14 836.52 L117.17 841.3 L145.24 842.5 L261.5 842.5" fill="none" stroke="#dc3a30" stroke-width="2.7" stroke-linejoin="round" stroke-linecap="round"/>
<path d="M47.01 774.92L50.01 777.92L47.01 780.92L44.01 777.92Z" fill="#dc3a30"/>
<path d="M61.05 838.3L64.05 841.3L61.05 844.3L58.05 841.3Z" fill="#dc3a30"/>
<path d="M81.09 836.51L84.09 839.51L81.09 842.51L78.09 839.51Z" fill="#dc3a30"/>
<path d="M103.14 833.52L106.14 836.52L103.14 839.52L100.14 836.52Z" fill="#dc3a30"/>
<path d="M117.17 838.3L120.17 841.3L117.17 844.3L114.17 841.3Z" fill="#dc3a30"/>
<path d="M145.24 839.5L148.24 842.5L145.24 845.5L142.24 842.5Z" fill="#dc3a30"/>
<path d="M261.5 839.5L264.5 842.5L261.5 845.5L258.5 842.5Z" fill="#dc3a30"/>
<path d="M47.01 792.27 L61.05 841.3 L81.09 834.73 L117.17 827.55 L145.24 839.51 L173.3 814.99 L211.39 842.5 L261.5 842.5" fill="none" stroke="#6358b0" stroke-width="2.7" stroke-linejoin="round" stroke-linecap="round"/>
<circle cx="47.01" cy="792.27" r="2.8" fill="#6358b0"/>
<circle cx="61.05" cy="841.3" r="2.8" fill="#6358b0"/>
<circle cx="81.09" cy="834.73" r="2.8" fill="#6358b0"/>
<circle cx="117.17" cy="827.55" r="2.8" fill="#6358b0"/>
<circle cx="145.24" cy="839.51" r="2.8" fill="#6358b0"/>
<circle cx="173.3" cy="814.99" r="2.8" fill="#6358b0"/>
<circle cx="211.39" cy="842.5" r="2.8" fill="#6358b0"/>
<circle cx="261.5" cy="842.5" r="2.8" fill="#6358b0"/>
<path d="M47.01 702.57 L61.05 842.5 L89.11 842.5 L145.24 842.5 L261.5 841.3" fill="none" stroke="#dc3a30" stroke-width="2.7" stroke-linejoin="round" stroke-linecap="round"/>
<circle cx="47.01" cy="702.57" r="2.8" fill="#dc3a30"/>
<circle cx="61.05" cy="842.5" r="2.8" fill="#dc3a30"/>
<circle cx="89.11" cy="842.5" r="2.8" fill="#dc3a30"/>
<circle cx="145.24" cy="842.5" r="2.8" fill="#dc3a30"/>
<circle cx="261.5" cy="841.3" r="2.8" fill="#dc3a30"/>
<path d="M47.01 773.73 L61.05 836.52 L89.11 835.92 L103.14 831.74 L117.17 814.99 L145.24 812.6 L215.4 816.19 L261.5 795.26" fill="none" stroke="#3cb04a" stroke-width="2.7" stroke-linejoin="round" stroke-linecap="round"/>
<circle cx="47.01" cy="773.73" r="2.8" fill="#3cb04a"/>
<circle cx="61.05" cy="836.52" r="2.8" fill="#3cb04a"/>
<circle cx="89.11" cy="835.92" r="2.8" fill="#3cb04a"/>
<circle cx="103.14" cy="831.74" r="2.8" fill="#3cb04a"/>
<circle cx="117.17" cy="814.99" r="2.8" fill="#3cb04a"/>
<circle cx="145.24" cy="812.6" r="2.8" fill="#3cb04a"/>
<circle cx="215.4" cy="816.19" r="2.8" fill="#3cb04a"/>
<circle cx="261.5" cy="795.26" r="2.8" fill="#3cb04a"/>
<path d="M47.01 697.19 L61.05 692.4 L89.11 739.64 L103.14 781.5 L117.17 728.28 L145.24 745.03 L261.5 725.29" fill="none" stroke="#000000" stroke-width="2.7" stroke-linejoin="round" stroke-linecap="round"/>
<path d="M47.01 694.44L49.76 697.19L47.01 699.94L44.26 697.19Z" fill="#000000"/>
<path d="M61.05 689.65L63.8 692.4L61.05 695.15L58.3 692.4Z" fill="#000000"/>
<path d="M89.11 736.89L91.86 739.64L89.11 742.39L86.36 739.64Z" fill="#000000"/>
<path d="M103.14 778.75L105.89 781.5L103.14 784.25L100.39 781.5Z" fill="#000000"/>
<path d="M117.17 725.53L119.92 728.28L117.17 731.03L114.42 728.28Z" fill="#000000"/>
<path d="M145.24 742.28L147.99 745.03L145.24 747.78L142.49 745.03Z" fill="#000000"/>
<path d="M261.5 722.54L264.25 725.29L261.5 728.04L258.75 725.29Z" fill="#000000"/>
<path d="M47.01 742.63 L61.05 751.01 L89.11 796.45 L103.14 760.57 L117.17 677.45 L145.24 725.29 L261.5 709.15" fill="none" stroke="#000000" stroke-width="2.7" stroke-linejoin="round" stroke-linecap="round"/>
<circle cx="47.01" cy="742.63" r="2.8" fill="#000000"/>
<circle cx="61.05" cy="751.01" r="2.8" fill="#000000"/>
<circle cx="89.11" cy="796.45" r="2.8" fill="#000000"/>
<circle cx="103.14" cy="760.57" r="2.8" fill="#000000"/>
<circle cx="117.17" cy="677.45" r="2.8" fill="#000000"/>
<circle cx="145.24" cy="725.29" r="2.8" fill="#000000"/>
<circle cx="261.5" cy="709.15" r="2.8" fill="#000000"/>
<path d="M47.01 771.94 L61.05 774.33 L89.11 800.64 L103.14 814.99 L117.17 764.16 L145.24 763.56 L261.5 770.74" fill="none" stroke="#000000" stroke-width="2.7" stroke-linejoin="round" stroke-linecap="round"/>
<path d="M47.01 769.41L49.43 774.03L44.59 774.03Z" fill="#000000"/>
<path d="M61.05 771.8L63.47 776.42L58.63 776.42Z" fill="#000000"/>
<path d="M89.11 798.11L91.53 802.73L86.69 802.73Z" fill="#000000"/>
<path d="M103.14 812.46L105.56 817.08L100.72 817.08Z" fill="#000000"/>
<path d="M117.17 761.63L119.59 766.25L114.75 766.25Z" fill="#000000"/>
<path d="M145.24 761.03L147.66 765.65L142.82 765.65Z" fill="#000000"/>
<path d="M261.5 768.21L263.92 772.83L259.08 772.83Z" fill="#000000"/>
<path d="M47.01 755.79 L61.05 758.18 L89.11 804.83 L103.14 781.5 L117.17 745.62 L145.24 766.25 L261.5 760.57" fill="none" stroke="#000000" stroke-width="2.7" stroke-linejoin="round" stroke-linecap="round"/>
<rect x="44.36" y="753.14" width="5.3" height="5.3" fill="#000000"/>
<rect x="58.4" y="755.53" width="5.3" height="5.3" fill="#000000"/>
<rect x="86.46" y="802.18" width="5.3" height="5.3" fill="#000000"/>
<rect x="100.49" y="778.85" width="5.3" height="5.3" fill="#000000"/>
<rect x="114.52" y="742.97" width="5.3" height="5.3" fill="#000000"/>
<rect x="142.59" y="763.61" width="5.3" height="5.3" fill="#000000"/>
<rect x="258.85" y="757.92" width="5.3" height="5.3" fill="#000000"/>
<path d="M278.25 806.25 L289.5 812 L315 817.5 L362 823.75 L390 836.5 L409.5 826 L437 824.5 L475 825.5" fill="none" stroke="#3cb04a" stroke-width="2.7" stroke-linejoin="round" stroke-linecap="round"/>
<path d="M278.25 803.25L281.25 806.25L278.25 809.25L275.25 806.25Z" fill="#3cb04a"/>
<path d="M289.5 809L292.5 812L289.5 815L286.5 812Z" fill="#3cb04a"/>
<path d="M315 814.5L318 817.5L315 820.5L312 817.5Z" fill="#3cb04a"/>
<path d="M362 820.75L365 823.75L362 826.75L359 823.75Z" fill="#3cb04a"/>
<path d="M390 833.5L393 836.5L390 839.5L387 836.5Z" fill="#3cb04a"/>
<path d="M409.5 823L412.5 826L409.5 829L406.5 826Z" fill="#3cb04a"/>
<path d="M437 821.5L440 824.5L437 827.5L434 824.5Z" fill="#3cb04a"/>
<path d="M475 822.5L478 825.5L475 828.5L472 825.5Z" fill="#3cb04a"/>
<path d="M278.25 825.5 L315 788.75 L337.5 808 L362 823.75 L390 802.5 L409.5 837 L437 837 L475 838.75" fill="none" stroke="#3cb04a" stroke-width="2.7" stroke-linejoin="round" stroke-linecap="round"/>
<rect x="275.55" y="822.8" width="5.4" height="5.4" fill="#3cb04a"/>
<rect x="312.3" y="786.05" width="5.4" height="5.4" fill="#3cb04a"/>
<rect x="334.8" y="805.3" width="5.4" height="5.4" fill="#3cb04a"/>
<rect x="359.3" y="821.05" width="5.4" height="5.4" fill="#3cb04a"/>
<rect x="387.3" y="799.8" width="5.4" height="5.4" fill="#3cb04a"/>
<rect x="406.8" y="834.3" width="5.4" height="5.4" fill="#3cb04a"/>
<rect x="434.3" y="834.3" width="5.4" height="5.4" fill="#3cb04a"/>
<rect x="472.3" y="836.05" width="5.4" height="5.4" fill="#3cb04a"/>
<path d="M278.25 841 L315 832.5 L362 827.5 L390 818" fill="none" stroke="#dc3a30" stroke-width="2.7" stroke-linejoin="round" stroke-linecap="round"/>
<path d="M278.25 838.12L281 843.38L275.5 843.38Z" fill="#dc3a30"/>
<path d="M315 829.62L317.75 834.88L312.25 834.88Z" fill="#dc3a30"/>
<path d="M362 824.62L364.75 829.88L359.25 829.88Z" fill="#dc3a30"/>
<path d="M390 815.12L392.75 820.38L387.25 820.38Z" fill="#dc3a30"/>
<path d="M278.25 841 L315 804.5 L362 812.5 L390 826.25 L409.5 832 L437 814.75 L475 818.5" fill="none" stroke="#dc3a30" stroke-width="2.7" stroke-linejoin="round" stroke-linecap="round"/>
<path d="M278.25 838L281.25 841L278.25 844L275.25 841Z" fill="#dc3a30"/>
<path d="M315 801.5L318 804.5L315 807.5L312 804.5Z" fill="#dc3a30"/>
<path d="M362 809.5L365 812.5L362 815.5L359 812.5Z" fill="#dc3a30"/>
<path d="M390 823.25L393 826.25L390 829.25L387 826.25Z" fill="#dc3a30"/>
<path d="M409.5 829L412.5 832L409.5 835L406.5 832Z" fill="#dc3a30"/>
<path d="M437 811.75L440 814.75L437 817.75L434 814.75Z" fill="#dc3a30"/>
<path d="M475 815.5L478 818.5L475 821.5L472 818.5Z" fill="#dc3a30"/>
<path d="M278.25 842 L315 842 L337.5 840 L362 837" fill="none" stroke="#6358b0" stroke-width="2.7" stroke-linejoin="round" stroke-linecap="round"/>
<circle cx="278.25" cy="842" r="2.8" fill="#6358b0"/>
<circle cx="315" cy="842" r="2.8" fill="#6358b0"/>
<circle cx="337.5" cy="840" r="2.8" fill="#6358b0"/>
<circle cx="362" cy="837" r="2.8" fill="#6358b0"/>
<path d="M278.25 842 L289.5 842 L315 842 L337.5 841 L362 838.5" fill="none" stroke="#dc3a30" stroke-width="2.7" stroke-linejoin="round" stroke-linecap="round"/>
<circle cx="278.25" cy="842" r="2.8" fill="#dc3a30"/>
<circle cx="289.5" cy="842" r="2.8" fill="#dc3a30"/>
<circle cx="315" cy="842" r="2.8" fill="#dc3a30"/>
<circle cx="337.5" cy="841" r="2.8" fill="#dc3a30"/>
<circle cx="362" cy="838.5" r="2.8" fill="#dc3a30"/>
<path d="M278.25 796.25 L289.5 823.75 L315 781.25 L337.5 814.5 L362 807" fill="none" stroke="#3cb04a" stroke-width="2.7" stroke-linejoin="round" stroke-linecap="round"/>
<circle cx="278.25" cy="796.25" r="2.8" fill="#3cb04a"/>
<circle cx="289.5" cy="823.75" r="2.8" fill="#3cb04a"/>
<circle cx="315" cy="781.25" r="2.8" fill="#3cb04a"/>
<circle cx="337.5" cy="814.5" r="2.8" fill="#3cb04a"/>
<circle cx="362" cy="807" r="2.8" fill="#3cb04a"/>
<path d="M278.1 724.8 L314.6 768.7 L338.25 764 L361.5 722.5 L390.4 731 L409.9 706.1 L437.1 700.9 L475.5 708.2 L504.6 726.3" fill="none" stroke="#000000" stroke-width="2.7" stroke-linejoin="round" stroke-linecap="round"/>
<circle cx="278.1" cy="724.8" r="2.8" fill="#000000"/>
<circle cx="314.6" cy="768.7" r="2.8" fill="#000000"/>
<circle cx="338.25" cy="764" r="2.8" fill="#000000"/>
<circle cx="361.5" cy="722.5" r="2.8" fill="#000000"/>
<circle cx="390.4" cy="731" r="2.8" fill="#000000"/>
<circle cx="409.9" cy="706.1" r="2.8" fill="#000000"/>
<circle cx="437.1" cy="700.9" r="2.8" fill="#000000"/>
<circle cx="475.5" cy="708.2" r="2.8" fill="#000000"/>
<circle cx="504.6" cy="726.3" r="2.8" fill="#000000"/>
<path d="M278.1 749.6 L290.75 744.6 L314.6 750.3 L336.9 761.2 L361.5 771.25 L390.4 769.6 L409.9 765.7 L437.1 751.7 L475.5 744.8 L504.6 747.7" fill="none" stroke="#000000" stroke-width="2.7" stroke-linejoin="round" stroke-linecap="round"/>
<path d="M278.1 746.85L280.85 749.6L278.1 752.35L275.35 749.6Z" fill="#000000"/>
<path d="M290.75 741.85L293.5 744.6L290.75 747.35L288 744.6Z" fill="#000000"/>
<path d="M314.6 747.55L317.35 750.3L314.6 753.05L311.85 750.3Z" fill="#000000"/>
<path d="M336.9 758.45L339.65 761.2L336.9 763.95L334.15 761.2Z" fill="#000000"/>
<path d="M361.5 768.5L364.25 771.25L361.5 774L358.75 771.25Z" fill="#000000"/>
<path d="M390.4 766.85L393.15 769.6L390.4 772.35L387.65 769.6Z" fill="#000000"/>
<path d="M409.9 762.95L412.65 765.7L409.9 768.45L407.15 765.7Z" fill="#000000"/>
<path d="M437.1 748.95L439.85 751.7L437.1 754.45L434.35 751.7Z" fill="#000000"/>
<path d="M475.5 742.05L478.25 744.8L475.5 747.55L472.75 744.8Z" fill="#000000"/>
<path d="M504.6 744.95L507.35 747.7L504.6 750.45L501.85 747.7Z" fill="#000000"/>
<path d="M278.1 772 L290.75 772 L314.6 778.5 L336.9 772 L361.5 771.25 L390.4 779.6" fill="none" stroke="#000000" stroke-width="1.7" stroke-linejoin="round" stroke-linecap="round"/>
<path d="M278.1 769.24L280.74 774.28L275.46 774.28Z" fill="#000000"/>
<path d="M290.75 769.24L293.39 774.28L288.11 774.28Z" fill="#000000"/>
<path d="M314.6 775.74L317.24 780.78L311.96 780.78Z" fill="#000000"/>
<path d="M336.9 769.24L339.54 774.28L334.26 774.28Z" fill="#000000"/>
<path d="M361.5 768.49L364.14 773.53L358.86 773.53Z" fill="#000000"/>
<path d="M390.4 776.84L393.04 781.88L387.76 781.88Z" fill="#000000"/>
<path d="M278.1 741.7 L290 757.5 L314.6 768.7 L338.25 765 L361.5 734.5 L390.4 753.4 L409.9 734.3 L437.1 722.8 L475.5 741.5 L504.6 758" fill="none" stroke="#000000" stroke-width="2.7" stroke-linejoin="round" stroke-linecap="round"/>
<rect x="275.45" y="739.05" width="5.3" height="5.3" fill="#000000"/>
<rect x="287.35" y="754.85" width="5.3" height="5.3" fill="#000000"/>
<rect x="311.95" y="766.05" width="5.3" height="5.3" fill="#000000"/>
<rect x="335.6" y="762.35" width="5.3" height="5.3" fill="#000000"/>
<rect x="358.85" y="731.85" width="5.3" height="5.3" fill="#000000"/>
<rect x="387.75" y="750.75" width="5.3" height="5.3" fill="#000000"/>
<rect x="407.25" y="731.65" width="5.3" height="5.3" fill="#000000"/>
<rect x="434.45" y="720.15" width="5.3" height="5.3" fill="#000000"/>
<rect x="472.85" y="738.85" width="5.3" height="5.3" fill="#000000"/>
<rect x="501.95" y="755.35" width="5.3" height="5.3" fill="#000000"/>
</svg>
</body></html>
